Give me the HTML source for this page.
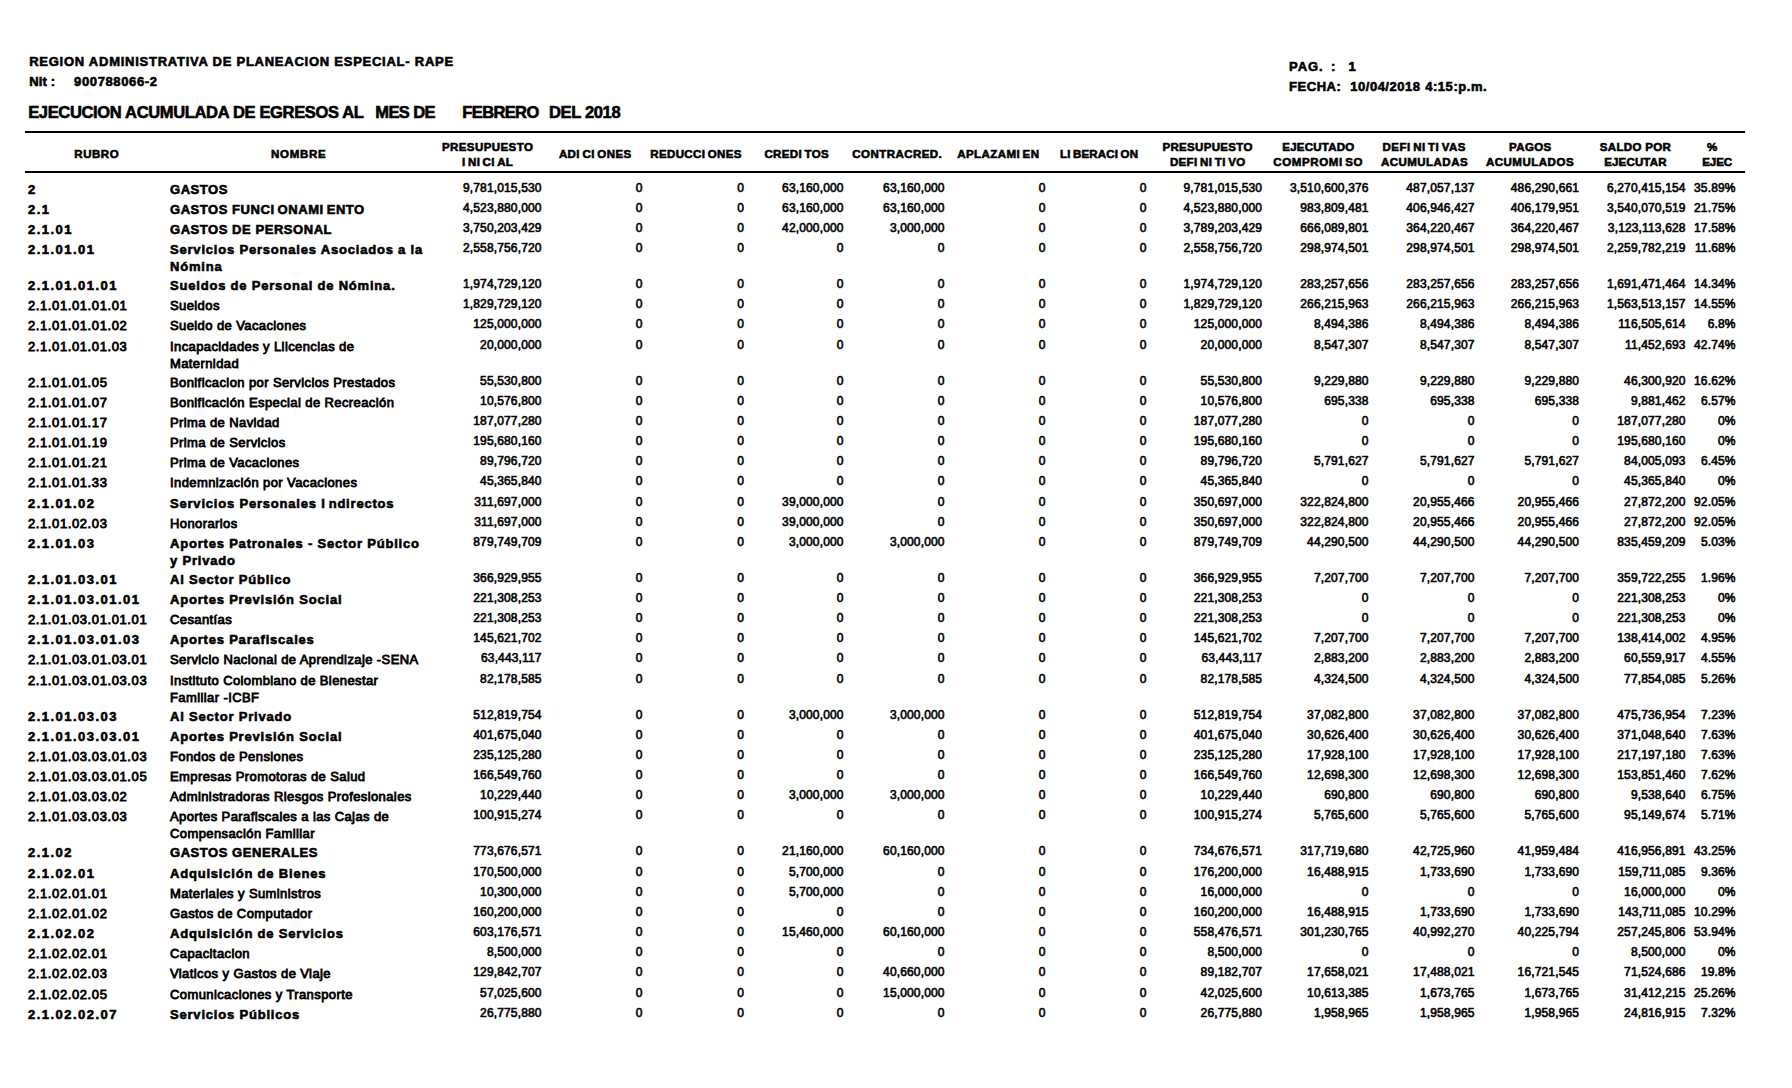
<!DOCTYPE html>
<html><head><meta charset="utf-8"><style>
html,body{margin:0;padding:0;background:#fff;}
body{width:1792px;height:1088px;position:relative;overflow:hidden;font-family:'Liberation Sans', sans-serif;color:#000;}
.t{position:absolute;white-space:pre;}
.r{position:absolute;background:#000;}
</style></head><body>
<div class="t" style="top:55px;font-size:13px;line-height:13px;font-weight:bold;letter-spacing:0.751px;left:29.20px;-webkit-text-stroke:0.6px #000;">REGION ADMINISTRATIVA DE PLANEACION ESPECIAL- RAPE</div>
<div class="t" style="top:75px;font-size:13px;line-height:13px;font-weight:bold;letter-spacing:0.140px;left:29.20px;-webkit-text-stroke:0.6px #000;">Nit :</div>
<div class="t" style="top:75px;font-size:13px;line-height:13px;font-weight:bold;letter-spacing:0.620px;left:74.10px;-webkit-text-stroke:0.6px #000;">900788066-2</div>
<div class="t" style="top:104px;font-size:16.5px;line-height:16.5px;font-weight:bold;letter-spacing:-0.337px;left:28.20px;-webkit-text-stroke:0.6px #000;">EJECUCION ACUMULADA DE EGRESOS AL</div>
<div class="t" style="top:104px;font-size:16.5px;line-height:16.5px;font-weight:bold;letter-spacing:-0.611px;left:375.30px;-webkit-text-stroke:0.6px #000;">MES DE</div>
<div class="t" style="top:104px;font-size:16.5px;line-height:16.5px;font-weight:bold;letter-spacing:-0.623px;left:462.30px;-webkit-text-stroke:0.6px #000;">FEBRERO</div>
<div class="t" style="top:104px;font-size:16.5px;line-height:16.5px;font-weight:bold;letter-spacing:-0.345px;left:549.00px;-webkit-text-stroke:0.6px #000;">DEL 2018</div>
<div class="t" style="top:60px;font-size:13px;line-height:13px;font-weight:bold;letter-spacing:0.931px;left:1289.10px;-webkit-text-stroke:0.6px #000;">PAG.</div>
<div class="t" style="top:60px;font-size:13px;line-height:13px;font-weight:bold;left:1330.90px;-webkit-text-stroke:0.6px #000;">:</div>
<div class="t" style="top:60px;font-size:13px;line-height:13px;font-weight:bold;left:1348.40px;-webkit-text-stroke:0.6px #000;">1</div>
<div class="t" style="top:80px;font-size:13px;line-height:13px;font-weight:bold;letter-spacing:0.525px;left:1289.10px;-webkit-text-stroke:0.6px #000;">FECHA:</div>
<div class="t" style="top:80px;font-size:13px;line-height:13px;font-weight:bold;letter-spacing:0.507px;left:1350.30px;-webkit-text-stroke:0.6px #000;">10/04/2018</div>
<div class="t" style="top:80px;font-size:13px;line-height:13px;font-weight:bold;letter-spacing:0.543px;left:1425.20px;-webkit-text-stroke:0.6px #000;">4:15:p.m.</div>
<div class="t" style="top:149px;font-size:11.5px;line-height:11.5px;font-weight:bold;letter-spacing:0.545px;left:74.30px;-webkit-text-stroke:0.6px #000;">RUBRO</div>
<div class="t" style="top:149px;font-size:11.5px;line-height:11.5px;font-weight:bold;letter-spacing:0.692px;left:271.00px;-webkit-text-stroke:0.6px #000;">NOMBRE</div>
<div class="t" style="top:142px;font-size:11.5px;line-height:11.5px;font-weight:bold;letter-spacing:0.425px;left:441.90px;-webkit-text-stroke:0.6px #000;">PRESUPUESTO</div>
<div class="t" style="top:157px;font-size:11.5px;line-height:11.5px;font-weight:bold;letter-spacing:0.267px;left:462.10px;-webkit-text-stroke:0.6px #000;"><span style="margin-right:2.5px">I</span>N<span style="margin-right:2.5px">I</span>C<span style="margin-right:2.5px">I</span>AL</div>
<div class="t" style="top:149px;font-size:11.5px;line-height:11.5px;font-weight:bold;letter-spacing:0.422px;left:558.90px;-webkit-text-stroke:0.6px #000;">AD<span style="margin-right:2.5px">I</span>C<span style="margin-right:2.5px">I</span>ONES</div>
<div class="t" style="top:149px;font-size:11.5px;line-height:11.5px;font-weight:bold;letter-spacing:0.359px;left:650.30px;-webkit-text-stroke:0.6px #000;">REDUCC<span style="margin-right:2.5px">I</span>ONES</div>
<div class="t" style="top:149px;font-size:11.5px;line-height:11.5px;font-weight:bold;letter-spacing:0.365px;left:764.40px;-webkit-text-stroke:0.6px #000;">CRED<span style="margin-right:2.5px">I</span>TOS</div>
<div class="t" style="top:149px;font-size:11.5px;line-height:11.5px;font-weight:bold;letter-spacing:0.443px;left:852.30px;-webkit-text-stroke:0.6px #000;">CONTRACRED.</div>
<div class="t" style="top:149px;font-size:11.5px;line-height:11.5px;font-weight:bold;letter-spacing:0.424px;left:957.30px;-webkit-text-stroke:0.6px #000;">APLAZAM<span style="margin-right:2.5px">I</span>EN</div>
<div class="t" style="top:149px;font-size:11.5px;line-height:11.5px;font-weight:bold;letter-spacing:0.139px;left:1060.10px;-webkit-text-stroke:0.6px #000;">L<span style="margin-right:2.5px">I</span>BERAC<span style="margin-right:2.5px">I</span>ON</div>
<div class="t" style="top:142px;font-size:11.5px;line-height:11.5px;font-weight:bold;letter-spacing:0.325px;left:1162.40px;-webkit-text-stroke:0.6px #000;">PRESUPUESTO</div>
<div class="t" style="top:157px;font-size:11.5px;line-height:11.5px;font-weight:bold;letter-spacing:0.357px;left:1169.90px;-webkit-text-stroke:0.6px #000;">DEF<span style="margin-right:2.5px">I</span>N<span style="margin-right:2.5px">I</span>T<span style="margin-right:2.5px">I</span>VO</div>
<div class="t" style="top:142px;font-size:11.5px;line-height:11.5px;font-weight:bold;letter-spacing:0.222px;left:1282.30px;-webkit-text-stroke:0.6px #000;">EJECUTADO</div>
<div class="t" style="top:157px;font-size:11.5px;line-height:11.5px;font-weight:bold;letter-spacing:0.623px;left:1273.30px;-webkit-text-stroke:0.6px #000;">COMPROM<span style="margin-right:2.5px">I</span>SO</div>
<div class="t" style="top:142px;font-size:11.5px;line-height:11.5px;font-weight:bold;letter-spacing:0.456px;left:1382.60px;-webkit-text-stroke:0.6px #000;">DEF<span style="margin-right:2.5px">I</span>N<span style="margin-right:2.5px">I</span>T<span style="margin-right:2.5px">I</span>VAS</div>
<div class="t" style="top:157px;font-size:11.5px;line-height:11.5px;font-weight:bold;letter-spacing:0.462px;left:1381.00px;-webkit-text-stroke:0.6px #000;">ACUMULADAS</div>
<div class="t" style="top:142px;font-size:11.5px;line-height:11.5px;font-weight:bold;letter-spacing:0.372px;left:1509.10px;-webkit-text-stroke:0.6px #000;">PAGOS</div>
<div class="t" style="top:157px;font-size:11.5px;line-height:11.5px;font-weight:bold;letter-spacing:0.513px;left:1485.90px;-webkit-text-stroke:0.6px #000;">ACUMULADOS</div>
<div class="t" style="top:142px;font-size:11.5px;line-height:11.5px;font-weight:bold;letter-spacing:0.330px;left:1599.80px;-webkit-text-stroke:0.6px #000;">SALDO POR</div>
<div class="t" style="top:157px;font-size:11.5px;line-height:11.5px;font-weight:bold;letter-spacing:0.168px;left:1604.20px;-webkit-text-stroke:0.6px #000;">EJECUTAR</div>
<div class="t" style="top:142px;font-size:11.5px;line-height:11.5px;font-weight:bold;left:1706.90px;-webkit-text-stroke:0.6px #000;">%</div>
<div class="t" style="top:157px;font-size:11.5px;line-height:11.5px;font-weight:bold;letter-spacing:-0.112px;left:1702.30px;-webkit-text-stroke:0.6px #000;">EJEC</div>
<div class="r" style="top:131px;left:25px;width:1720px;height:2px"></div>
<div class="r" style="top:171px;left:25px;width:1720px;height:2px"></div>
<div class="t" style="top:183px;font-size:13px;line-height:13px;font-weight:bold;letter-spacing:1.470px;left:28.00px;-webkit-text-stroke:0.6px #000;">2</div>
<div class="t" style="top:183px;font-size:13px;line-height:13px;font-weight:bold;letter-spacing:0.550px;left:170.00px;-webkit-text-stroke:0.6px #000;">GASTOS</div>
<div class="t" style="top:182px;font-size:12px;line-height:12px;font-weight:normal;letter-spacing:0.150px;right:1250.35px;text-align:right;-webkit-text-stroke:0.6px #000;">9,781,015,530</div>
<div class="t" style="top:182px;font-size:12px;line-height:12px;font-weight:normal;letter-spacing:0.150px;right:1149.35px;text-align:right;-webkit-text-stroke:0.6px #000;">0</div>
<div class="t" style="top:182px;font-size:12px;line-height:12px;font-weight:normal;letter-spacing:0.150px;right:1047.85px;text-align:right;-webkit-text-stroke:0.6px #000;">0</div>
<div class="t" style="top:182px;font-size:12px;line-height:12px;font-weight:normal;letter-spacing:0.150px;right:948.35px;text-align:right;-webkit-text-stroke:0.6px #000;">63,160,000</div>
<div class="t" style="top:182px;font-size:12px;line-height:12px;font-weight:normal;letter-spacing:0.150px;right:847.35px;text-align:right;-webkit-text-stroke:0.6px #000;">63,160,000</div>
<div class="t" style="top:182px;font-size:12px;line-height:12px;font-weight:normal;letter-spacing:0.150px;right:746.35px;text-align:right;-webkit-text-stroke:0.6px #000;">0</div>
<div class="t" style="top:182px;font-size:12px;line-height:12px;font-weight:normal;letter-spacing:0.150px;right:645.35px;text-align:right;-webkit-text-stroke:0.6px #000;">0</div>
<div class="t" style="top:182px;font-size:12px;line-height:12px;font-weight:normal;letter-spacing:0.150px;right:529.85px;text-align:right;-webkit-text-stroke:0.6px #000;">9,781,015,530</div>
<div class="t" style="top:182px;font-size:12px;line-height:12px;font-weight:normal;letter-spacing:0.150px;right:423.35px;text-align:right;-webkit-text-stroke:0.6px #000;">3,510,600,376</div>
<div class="t" style="top:182px;font-size:12px;line-height:12px;font-weight:normal;letter-spacing:0.150px;right:317.35px;text-align:right;-webkit-text-stroke:0.6px #000;">487,057,137</div>
<div class="t" style="top:182px;font-size:12px;line-height:12px;font-weight:normal;letter-spacing:0.150px;right:212.85px;text-align:right;-webkit-text-stroke:0.6px #000;">486,290,661</div>
<div class="t" style="top:182px;font-size:12px;line-height:12px;font-weight:normal;letter-spacing:0.150px;right:106.35px;text-align:right;-webkit-text-stroke:0.6px #000;">6,270,415,154</div>
<div class="t" style="top:182px;font-size:12px;line-height:12px;font-weight:normal;letter-spacing:0.150px;right:56.35px;text-align:right;-webkit-text-stroke:0.6px #000;">35.89%</div>
<div class="t" style="top:203px;font-size:13px;line-height:13px;font-weight:bold;letter-spacing:1.470px;left:28.00px;-webkit-text-stroke:0.6px #000;">2.1</div>
<div class="t" style="top:203px;font-size:13px;line-height:13px;font-weight:bold;letter-spacing:0.550px;left:170.00px;-webkit-text-stroke:0.6px #000;">GASTOS FUNC<span style="margin-right:3px">I</span>ONAM<span style="margin-right:3px">I</span>ENTO</div>
<div class="t" style="top:202px;font-size:12px;line-height:12px;font-weight:normal;letter-spacing:0.150px;right:1250.35px;text-align:right;-webkit-text-stroke:0.6px #000;">4,523,880,000</div>
<div class="t" style="top:202px;font-size:12px;line-height:12px;font-weight:normal;letter-spacing:0.150px;right:1149.35px;text-align:right;-webkit-text-stroke:0.6px #000;">0</div>
<div class="t" style="top:202px;font-size:12px;line-height:12px;font-weight:normal;letter-spacing:0.150px;right:1047.85px;text-align:right;-webkit-text-stroke:0.6px #000;">0</div>
<div class="t" style="top:202px;font-size:12px;line-height:12px;font-weight:normal;letter-spacing:0.150px;right:948.35px;text-align:right;-webkit-text-stroke:0.6px #000;">63,160,000</div>
<div class="t" style="top:202px;font-size:12px;line-height:12px;font-weight:normal;letter-spacing:0.150px;right:847.35px;text-align:right;-webkit-text-stroke:0.6px #000;">63,160,000</div>
<div class="t" style="top:202px;font-size:12px;line-height:12px;font-weight:normal;letter-spacing:0.150px;right:746.35px;text-align:right;-webkit-text-stroke:0.6px #000;">0</div>
<div class="t" style="top:202px;font-size:12px;line-height:12px;font-weight:normal;letter-spacing:0.150px;right:645.35px;text-align:right;-webkit-text-stroke:0.6px #000;">0</div>
<div class="t" style="top:202px;font-size:12px;line-height:12px;font-weight:normal;letter-spacing:0.150px;right:529.85px;text-align:right;-webkit-text-stroke:0.6px #000;">4,523,880,000</div>
<div class="t" style="top:202px;font-size:12px;line-height:12px;font-weight:normal;letter-spacing:0.150px;right:423.35px;text-align:right;-webkit-text-stroke:0.6px #000;">983,809,481</div>
<div class="t" style="top:202px;font-size:12px;line-height:12px;font-weight:normal;letter-spacing:0.150px;right:317.35px;text-align:right;-webkit-text-stroke:0.6px #000;">406,946,427</div>
<div class="t" style="top:202px;font-size:12px;line-height:12px;font-weight:normal;letter-spacing:0.150px;right:212.85px;text-align:right;-webkit-text-stroke:0.6px #000;">406,179,951</div>
<div class="t" style="top:202px;font-size:12px;line-height:12px;font-weight:normal;letter-spacing:0.150px;right:106.35px;text-align:right;-webkit-text-stroke:0.6px #000;">3,540,070,519</div>
<div class="t" style="top:202px;font-size:12px;line-height:12px;font-weight:normal;letter-spacing:0.150px;right:56.35px;text-align:right;-webkit-text-stroke:0.6px #000;">21.75%</div>
<div class="t" style="top:223px;font-size:13px;line-height:13px;font-weight:bold;letter-spacing:1.470px;left:28.00px;-webkit-text-stroke:0.6px #000;">2.1.01</div>
<div class="t" style="top:223px;font-size:13px;line-height:13px;font-weight:bold;letter-spacing:0.550px;left:170.00px;-webkit-text-stroke:0.6px #000;">GASTOS DE PERSONAL</div>
<div class="t" style="top:222px;font-size:12px;line-height:12px;font-weight:normal;letter-spacing:0.150px;right:1250.35px;text-align:right;-webkit-text-stroke:0.6px #000;">3,750,203,429</div>
<div class="t" style="top:222px;font-size:12px;line-height:12px;font-weight:normal;letter-spacing:0.150px;right:1149.35px;text-align:right;-webkit-text-stroke:0.6px #000;">0</div>
<div class="t" style="top:222px;font-size:12px;line-height:12px;font-weight:normal;letter-spacing:0.150px;right:1047.85px;text-align:right;-webkit-text-stroke:0.6px #000;">0</div>
<div class="t" style="top:222px;font-size:12px;line-height:12px;font-weight:normal;letter-spacing:0.150px;right:948.35px;text-align:right;-webkit-text-stroke:0.6px #000;">42,000,000</div>
<div class="t" style="top:222px;font-size:12px;line-height:12px;font-weight:normal;letter-spacing:0.150px;right:847.35px;text-align:right;-webkit-text-stroke:0.6px #000;">3,000,000</div>
<div class="t" style="top:222px;font-size:12px;line-height:12px;font-weight:normal;letter-spacing:0.150px;right:746.35px;text-align:right;-webkit-text-stroke:0.6px #000;">0</div>
<div class="t" style="top:222px;font-size:12px;line-height:12px;font-weight:normal;letter-spacing:0.150px;right:645.35px;text-align:right;-webkit-text-stroke:0.6px #000;">0</div>
<div class="t" style="top:222px;font-size:12px;line-height:12px;font-weight:normal;letter-spacing:0.150px;right:529.85px;text-align:right;-webkit-text-stroke:0.6px #000;">3,789,203,429</div>
<div class="t" style="top:222px;font-size:12px;line-height:12px;font-weight:normal;letter-spacing:0.150px;right:423.35px;text-align:right;-webkit-text-stroke:0.6px #000;">666,089,801</div>
<div class="t" style="top:222px;font-size:12px;line-height:12px;font-weight:normal;letter-spacing:0.150px;right:317.35px;text-align:right;-webkit-text-stroke:0.6px #000;">364,220,467</div>
<div class="t" style="top:222px;font-size:12px;line-height:12px;font-weight:normal;letter-spacing:0.150px;right:212.85px;text-align:right;-webkit-text-stroke:0.6px #000;">364,220,467</div>
<div class="t" style="top:222px;font-size:12px;line-height:12px;font-weight:normal;letter-spacing:0.150px;right:106.35px;text-align:right;-webkit-text-stroke:0.6px #000;">3,123,113,628</div>
<div class="t" style="top:222px;font-size:12px;line-height:12px;font-weight:normal;letter-spacing:0.150px;right:56.35px;text-align:right;-webkit-text-stroke:0.6px #000;">17.58%</div>
<div class="t" style="top:243px;font-size:13px;line-height:13px;font-weight:bold;letter-spacing:1.470px;left:28.00px;-webkit-text-stroke:0.6px #000;">2.1.01.01</div>
<div class="t" style="top:243px;font-size:13px;line-height:13px;font-weight:bold;letter-spacing:0.800px;left:170.00px;-webkit-text-stroke:0.6px #000;">Servicios Personales Asociados a la</div>
<div class="t" style="top:260px;font-size:13px;line-height:13px;font-weight:bold;letter-spacing:0.800px;left:170.00px;-webkit-text-stroke:0.6px #000;">Nómina</div>
<div class="t" style="top:242px;font-size:12px;line-height:12px;font-weight:normal;letter-spacing:0.150px;right:1250.35px;text-align:right;-webkit-text-stroke:0.6px #000;">2,558,756,720</div>
<div class="t" style="top:242px;font-size:12px;line-height:12px;font-weight:normal;letter-spacing:0.150px;right:1149.35px;text-align:right;-webkit-text-stroke:0.6px #000;">0</div>
<div class="t" style="top:242px;font-size:12px;line-height:12px;font-weight:normal;letter-spacing:0.150px;right:1047.85px;text-align:right;-webkit-text-stroke:0.6px #000;">0</div>
<div class="t" style="top:242px;font-size:12px;line-height:12px;font-weight:normal;letter-spacing:0.150px;right:948.35px;text-align:right;-webkit-text-stroke:0.6px #000;">0</div>
<div class="t" style="top:242px;font-size:12px;line-height:12px;font-weight:normal;letter-spacing:0.150px;right:847.35px;text-align:right;-webkit-text-stroke:0.6px #000;">0</div>
<div class="t" style="top:242px;font-size:12px;line-height:12px;font-weight:normal;letter-spacing:0.150px;right:746.35px;text-align:right;-webkit-text-stroke:0.6px #000;">0</div>
<div class="t" style="top:242px;font-size:12px;line-height:12px;font-weight:normal;letter-spacing:0.150px;right:645.35px;text-align:right;-webkit-text-stroke:0.6px #000;">0</div>
<div class="t" style="top:242px;font-size:12px;line-height:12px;font-weight:normal;letter-spacing:0.150px;right:529.85px;text-align:right;-webkit-text-stroke:0.6px #000;">2,558,756,720</div>
<div class="t" style="top:242px;font-size:12px;line-height:12px;font-weight:normal;letter-spacing:0.150px;right:423.35px;text-align:right;-webkit-text-stroke:0.6px #000;">298,974,501</div>
<div class="t" style="top:242px;font-size:12px;line-height:12px;font-weight:normal;letter-spacing:0.150px;right:317.35px;text-align:right;-webkit-text-stroke:0.6px #000;">298,974,501</div>
<div class="t" style="top:242px;font-size:12px;line-height:12px;font-weight:normal;letter-spacing:0.150px;right:212.85px;text-align:right;-webkit-text-stroke:0.6px #000;">298,974,501</div>
<div class="t" style="top:242px;font-size:12px;line-height:12px;font-weight:normal;letter-spacing:0.150px;right:106.35px;text-align:right;-webkit-text-stroke:0.6px #000;">2,259,782,219</div>
<div class="t" style="top:242px;font-size:12px;line-height:12px;font-weight:normal;letter-spacing:0.150px;right:56.35px;text-align:right;-webkit-text-stroke:0.6px #000;">11.68%</div>
<div class="t" style="top:279px;font-size:13px;line-height:13px;font-weight:bold;letter-spacing:1.470px;left:28.00px;-webkit-text-stroke:0.6px #000;">2.1.01.01.01</div>
<div class="t" style="top:279px;font-size:13px;line-height:13px;font-weight:bold;letter-spacing:0.800px;left:170.00px;-webkit-text-stroke:0.6px #000;">Sueldos de Personal de Nómina.</div>
<div class="t" style="top:278px;font-size:12px;line-height:12px;font-weight:normal;letter-spacing:0.150px;right:1250.35px;text-align:right;-webkit-text-stroke:0.6px #000;">1,974,729,120</div>
<div class="t" style="top:278px;font-size:12px;line-height:12px;font-weight:normal;letter-spacing:0.150px;right:1149.35px;text-align:right;-webkit-text-stroke:0.6px #000;">0</div>
<div class="t" style="top:278px;font-size:12px;line-height:12px;font-weight:normal;letter-spacing:0.150px;right:1047.85px;text-align:right;-webkit-text-stroke:0.6px #000;">0</div>
<div class="t" style="top:278px;font-size:12px;line-height:12px;font-weight:normal;letter-spacing:0.150px;right:948.35px;text-align:right;-webkit-text-stroke:0.6px #000;">0</div>
<div class="t" style="top:278px;font-size:12px;line-height:12px;font-weight:normal;letter-spacing:0.150px;right:847.35px;text-align:right;-webkit-text-stroke:0.6px #000;">0</div>
<div class="t" style="top:278px;font-size:12px;line-height:12px;font-weight:normal;letter-spacing:0.150px;right:746.35px;text-align:right;-webkit-text-stroke:0.6px #000;">0</div>
<div class="t" style="top:278px;font-size:12px;line-height:12px;font-weight:normal;letter-spacing:0.150px;right:645.35px;text-align:right;-webkit-text-stroke:0.6px #000;">0</div>
<div class="t" style="top:278px;font-size:12px;line-height:12px;font-weight:normal;letter-spacing:0.150px;right:529.85px;text-align:right;-webkit-text-stroke:0.6px #000;">1,974,729,120</div>
<div class="t" style="top:278px;font-size:12px;line-height:12px;font-weight:normal;letter-spacing:0.150px;right:423.35px;text-align:right;-webkit-text-stroke:0.6px #000;">283,257,656</div>
<div class="t" style="top:278px;font-size:12px;line-height:12px;font-weight:normal;letter-spacing:0.150px;right:317.35px;text-align:right;-webkit-text-stroke:0.6px #000;">283,257,656</div>
<div class="t" style="top:278px;font-size:12px;line-height:12px;font-weight:normal;letter-spacing:0.150px;right:212.85px;text-align:right;-webkit-text-stroke:0.6px #000;">283,257,656</div>
<div class="t" style="top:278px;font-size:12px;line-height:12px;font-weight:normal;letter-spacing:0.150px;right:106.35px;text-align:right;-webkit-text-stroke:0.6px #000;">1,691,471,464</div>
<div class="t" style="top:278px;font-size:12px;line-height:12px;font-weight:normal;letter-spacing:0.150px;right:56.35px;text-align:right;-webkit-text-stroke:0.6px #000;">14.34%</div>
<div class="t" style="top:299px;font-size:13px;line-height:13px;font-weight:normal;letter-spacing:0.600px;left:28.00px;-webkit-text-stroke:0.8px #000;">2.1.01.01.01.01</div>
<div class="t" style="top:299px;font-size:13px;line-height:13px;font-weight:normal;letter-spacing:0.400px;left:170.00px;-webkit-text-stroke:0.8px #000;">Sueldos</div>
<div class="t" style="top:298px;font-size:12px;line-height:12px;font-weight:normal;letter-spacing:0.150px;right:1250.35px;text-align:right;-webkit-text-stroke:0.6px #000;">1,829,729,120</div>
<div class="t" style="top:298px;font-size:12px;line-height:12px;font-weight:normal;letter-spacing:0.150px;right:1149.35px;text-align:right;-webkit-text-stroke:0.6px #000;">0</div>
<div class="t" style="top:298px;font-size:12px;line-height:12px;font-weight:normal;letter-spacing:0.150px;right:1047.85px;text-align:right;-webkit-text-stroke:0.6px #000;">0</div>
<div class="t" style="top:298px;font-size:12px;line-height:12px;font-weight:normal;letter-spacing:0.150px;right:948.35px;text-align:right;-webkit-text-stroke:0.6px #000;">0</div>
<div class="t" style="top:298px;font-size:12px;line-height:12px;font-weight:normal;letter-spacing:0.150px;right:847.35px;text-align:right;-webkit-text-stroke:0.6px #000;">0</div>
<div class="t" style="top:298px;font-size:12px;line-height:12px;font-weight:normal;letter-spacing:0.150px;right:746.35px;text-align:right;-webkit-text-stroke:0.6px #000;">0</div>
<div class="t" style="top:298px;font-size:12px;line-height:12px;font-weight:normal;letter-spacing:0.150px;right:645.35px;text-align:right;-webkit-text-stroke:0.6px #000;">0</div>
<div class="t" style="top:298px;font-size:12px;line-height:12px;font-weight:normal;letter-spacing:0.150px;right:529.85px;text-align:right;-webkit-text-stroke:0.6px #000;">1,829,729,120</div>
<div class="t" style="top:298px;font-size:12px;line-height:12px;font-weight:normal;letter-spacing:0.150px;right:423.35px;text-align:right;-webkit-text-stroke:0.6px #000;">266,215,963</div>
<div class="t" style="top:298px;font-size:12px;line-height:12px;font-weight:normal;letter-spacing:0.150px;right:317.35px;text-align:right;-webkit-text-stroke:0.6px #000;">266,215,963</div>
<div class="t" style="top:298px;font-size:12px;line-height:12px;font-weight:normal;letter-spacing:0.150px;right:212.85px;text-align:right;-webkit-text-stroke:0.6px #000;">266,215,963</div>
<div class="t" style="top:298px;font-size:12px;line-height:12px;font-weight:normal;letter-spacing:0.150px;right:106.35px;text-align:right;-webkit-text-stroke:0.6px #000;">1,563,513,157</div>
<div class="t" style="top:298px;font-size:12px;line-height:12px;font-weight:normal;letter-spacing:0.150px;right:56.35px;text-align:right;-webkit-text-stroke:0.6px #000;">14.55%</div>
<div class="t" style="top:319px;font-size:13px;line-height:13px;font-weight:normal;letter-spacing:0.600px;left:28.00px;-webkit-text-stroke:0.8px #000;">2.1.01.01.01.02</div>
<div class="t" style="top:319px;font-size:13px;line-height:13px;font-weight:normal;letter-spacing:0.400px;left:170.00px;-webkit-text-stroke:0.8px #000;">Sueldo de Vacaciones</div>
<div class="t" style="top:318px;font-size:12px;line-height:12px;font-weight:normal;letter-spacing:0.150px;right:1250.35px;text-align:right;-webkit-text-stroke:0.6px #000;">125,000,000</div>
<div class="t" style="top:318px;font-size:12px;line-height:12px;font-weight:normal;letter-spacing:0.150px;right:1149.35px;text-align:right;-webkit-text-stroke:0.6px #000;">0</div>
<div class="t" style="top:318px;font-size:12px;line-height:12px;font-weight:normal;letter-spacing:0.150px;right:1047.85px;text-align:right;-webkit-text-stroke:0.6px #000;">0</div>
<div class="t" style="top:318px;font-size:12px;line-height:12px;font-weight:normal;letter-spacing:0.150px;right:948.35px;text-align:right;-webkit-text-stroke:0.6px #000;">0</div>
<div class="t" style="top:318px;font-size:12px;line-height:12px;font-weight:normal;letter-spacing:0.150px;right:847.35px;text-align:right;-webkit-text-stroke:0.6px #000;">0</div>
<div class="t" style="top:318px;font-size:12px;line-height:12px;font-weight:normal;letter-spacing:0.150px;right:746.35px;text-align:right;-webkit-text-stroke:0.6px #000;">0</div>
<div class="t" style="top:318px;font-size:12px;line-height:12px;font-weight:normal;letter-spacing:0.150px;right:645.35px;text-align:right;-webkit-text-stroke:0.6px #000;">0</div>
<div class="t" style="top:318px;font-size:12px;line-height:12px;font-weight:normal;letter-spacing:0.150px;right:529.85px;text-align:right;-webkit-text-stroke:0.6px #000;">125,000,000</div>
<div class="t" style="top:318px;font-size:12px;line-height:12px;font-weight:normal;letter-spacing:0.150px;right:423.35px;text-align:right;-webkit-text-stroke:0.6px #000;">8,494,386</div>
<div class="t" style="top:318px;font-size:12px;line-height:12px;font-weight:normal;letter-spacing:0.150px;right:317.35px;text-align:right;-webkit-text-stroke:0.6px #000;">8,494,386</div>
<div class="t" style="top:318px;font-size:12px;line-height:12px;font-weight:normal;letter-spacing:0.150px;right:212.85px;text-align:right;-webkit-text-stroke:0.6px #000;">8,494,386</div>
<div class="t" style="top:318px;font-size:12px;line-height:12px;font-weight:normal;letter-spacing:0.150px;right:106.35px;text-align:right;-webkit-text-stroke:0.6px #000;">116,505,614</div>
<div class="t" style="top:318px;font-size:12px;line-height:12px;font-weight:normal;letter-spacing:0.150px;right:56.35px;text-align:right;-webkit-text-stroke:0.6px #000;">6.8%</div>
<div class="t" style="top:340px;font-size:13px;line-height:13px;font-weight:normal;letter-spacing:0.600px;left:28.00px;-webkit-text-stroke:0.8px #000;">2.1.01.01.01.03</div>
<div class="t" style="top:340px;font-size:13px;line-height:13px;font-weight:normal;letter-spacing:0.400px;left:170.00px;-webkit-text-stroke:0.8px #000;">Incapacidades y Liicencias de</div>
<div class="t" style="top:357px;font-size:13px;line-height:13px;font-weight:normal;letter-spacing:0.400px;left:170.00px;-webkit-text-stroke:0.8px #000;">Maternidad</div>
<div class="t" style="top:339px;font-size:12px;line-height:12px;font-weight:normal;letter-spacing:0.150px;right:1250.35px;text-align:right;-webkit-text-stroke:0.6px #000;">20,000,000</div>
<div class="t" style="top:339px;font-size:12px;line-height:12px;font-weight:normal;letter-spacing:0.150px;right:1149.35px;text-align:right;-webkit-text-stroke:0.6px #000;">0</div>
<div class="t" style="top:339px;font-size:12px;line-height:12px;font-weight:normal;letter-spacing:0.150px;right:1047.85px;text-align:right;-webkit-text-stroke:0.6px #000;">0</div>
<div class="t" style="top:339px;font-size:12px;line-height:12px;font-weight:normal;letter-spacing:0.150px;right:948.35px;text-align:right;-webkit-text-stroke:0.6px #000;">0</div>
<div class="t" style="top:339px;font-size:12px;line-height:12px;font-weight:normal;letter-spacing:0.150px;right:847.35px;text-align:right;-webkit-text-stroke:0.6px #000;">0</div>
<div class="t" style="top:339px;font-size:12px;line-height:12px;font-weight:normal;letter-spacing:0.150px;right:746.35px;text-align:right;-webkit-text-stroke:0.6px #000;">0</div>
<div class="t" style="top:339px;font-size:12px;line-height:12px;font-weight:normal;letter-spacing:0.150px;right:645.35px;text-align:right;-webkit-text-stroke:0.6px #000;">0</div>
<div class="t" style="top:339px;font-size:12px;line-height:12px;font-weight:normal;letter-spacing:0.150px;right:529.85px;text-align:right;-webkit-text-stroke:0.6px #000;">20,000,000</div>
<div class="t" style="top:339px;font-size:12px;line-height:12px;font-weight:normal;letter-spacing:0.150px;right:423.35px;text-align:right;-webkit-text-stroke:0.6px #000;">8,547,307</div>
<div class="t" style="top:339px;font-size:12px;line-height:12px;font-weight:normal;letter-spacing:0.150px;right:317.35px;text-align:right;-webkit-text-stroke:0.6px #000;">8,547,307</div>
<div class="t" style="top:339px;font-size:12px;line-height:12px;font-weight:normal;letter-spacing:0.150px;right:212.85px;text-align:right;-webkit-text-stroke:0.6px #000;">8,547,307</div>
<div class="t" style="top:339px;font-size:12px;line-height:12px;font-weight:normal;letter-spacing:0.150px;right:106.35px;text-align:right;-webkit-text-stroke:0.6px #000;">11,452,693</div>
<div class="t" style="top:339px;font-size:12px;line-height:12px;font-weight:normal;letter-spacing:0.150px;right:56.35px;text-align:right;-webkit-text-stroke:0.6px #000;">42.74%</div>
<div class="t" style="top:376px;font-size:13px;line-height:13px;font-weight:normal;letter-spacing:0.600px;left:28.00px;-webkit-text-stroke:0.8px #000;">2.1.01.01.05</div>
<div class="t" style="top:376px;font-size:13px;line-height:13px;font-weight:normal;letter-spacing:0.400px;left:170.00px;-webkit-text-stroke:0.8px #000;">Bonificacion por Servicios Prestados</div>
<div class="t" style="top:375px;font-size:12px;line-height:12px;font-weight:normal;letter-spacing:0.150px;right:1250.35px;text-align:right;-webkit-text-stroke:0.6px #000;">55,530,800</div>
<div class="t" style="top:375px;font-size:12px;line-height:12px;font-weight:normal;letter-spacing:0.150px;right:1149.35px;text-align:right;-webkit-text-stroke:0.6px #000;">0</div>
<div class="t" style="top:375px;font-size:12px;line-height:12px;font-weight:normal;letter-spacing:0.150px;right:1047.85px;text-align:right;-webkit-text-stroke:0.6px #000;">0</div>
<div class="t" style="top:375px;font-size:12px;line-height:12px;font-weight:normal;letter-spacing:0.150px;right:948.35px;text-align:right;-webkit-text-stroke:0.6px #000;">0</div>
<div class="t" style="top:375px;font-size:12px;line-height:12px;font-weight:normal;letter-spacing:0.150px;right:847.35px;text-align:right;-webkit-text-stroke:0.6px #000;">0</div>
<div class="t" style="top:375px;font-size:12px;line-height:12px;font-weight:normal;letter-spacing:0.150px;right:746.35px;text-align:right;-webkit-text-stroke:0.6px #000;">0</div>
<div class="t" style="top:375px;font-size:12px;line-height:12px;font-weight:normal;letter-spacing:0.150px;right:645.35px;text-align:right;-webkit-text-stroke:0.6px #000;">0</div>
<div class="t" style="top:375px;font-size:12px;line-height:12px;font-weight:normal;letter-spacing:0.150px;right:529.85px;text-align:right;-webkit-text-stroke:0.6px #000;">55,530,800</div>
<div class="t" style="top:375px;font-size:12px;line-height:12px;font-weight:normal;letter-spacing:0.150px;right:423.35px;text-align:right;-webkit-text-stroke:0.6px #000;">9,229,880</div>
<div class="t" style="top:375px;font-size:12px;line-height:12px;font-weight:normal;letter-spacing:0.150px;right:317.35px;text-align:right;-webkit-text-stroke:0.6px #000;">9,229,880</div>
<div class="t" style="top:375px;font-size:12px;line-height:12px;font-weight:normal;letter-spacing:0.150px;right:212.85px;text-align:right;-webkit-text-stroke:0.6px #000;">9,229,880</div>
<div class="t" style="top:375px;font-size:12px;line-height:12px;font-weight:normal;letter-spacing:0.150px;right:106.35px;text-align:right;-webkit-text-stroke:0.6px #000;">46,300,920</div>
<div class="t" style="top:375px;font-size:12px;line-height:12px;font-weight:normal;letter-spacing:0.150px;right:56.35px;text-align:right;-webkit-text-stroke:0.6px #000;">16.62%</div>
<div class="t" style="top:396px;font-size:13px;line-height:13px;font-weight:normal;letter-spacing:0.600px;left:28.00px;-webkit-text-stroke:0.8px #000;">2.1.01.01.07</div>
<div class="t" style="top:396px;font-size:13px;line-height:13px;font-weight:normal;letter-spacing:0.400px;left:170.00px;-webkit-text-stroke:0.8px #000;">Bonificación Especial de Recreación</div>
<div class="t" style="top:395px;font-size:12px;line-height:12px;font-weight:normal;letter-spacing:0.150px;right:1250.35px;text-align:right;-webkit-text-stroke:0.6px #000;">10,576,800</div>
<div class="t" style="top:395px;font-size:12px;line-height:12px;font-weight:normal;letter-spacing:0.150px;right:1149.35px;text-align:right;-webkit-text-stroke:0.6px #000;">0</div>
<div class="t" style="top:395px;font-size:12px;line-height:12px;font-weight:normal;letter-spacing:0.150px;right:1047.85px;text-align:right;-webkit-text-stroke:0.6px #000;">0</div>
<div class="t" style="top:395px;font-size:12px;line-height:12px;font-weight:normal;letter-spacing:0.150px;right:948.35px;text-align:right;-webkit-text-stroke:0.6px #000;">0</div>
<div class="t" style="top:395px;font-size:12px;line-height:12px;font-weight:normal;letter-spacing:0.150px;right:847.35px;text-align:right;-webkit-text-stroke:0.6px #000;">0</div>
<div class="t" style="top:395px;font-size:12px;line-height:12px;font-weight:normal;letter-spacing:0.150px;right:746.35px;text-align:right;-webkit-text-stroke:0.6px #000;">0</div>
<div class="t" style="top:395px;font-size:12px;line-height:12px;font-weight:normal;letter-spacing:0.150px;right:645.35px;text-align:right;-webkit-text-stroke:0.6px #000;">0</div>
<div class="t" style="top:395px;font-size:12px;line-height:12px;font-weight:normal;letter-spacing:0.150px;right:529.85px;text-align:right;-webkit-text-stroke:0.6px #000;">10,576,800</div>
<div class="t" style="top:395px;font-size:12px;line-height:12px;font-weight:normal;letter-spacing:0.150px;right:423.35px;text-align:right;-webkit-text-stroke:0.6px #000;">695,338</div>
<div class="t" style="top:395px;font-size:12px;line-height:12px;font-weight:normal;letter-spacing:0.150px;right:317.35px;text-align:right;-webkit-text-stroke:0.6px #000;">695,338</div>
<div class="t" style="top:395px;font-size:12px;line-height:12px;font-weight:normal;letter-spacing:0.150px;right:212.85px;text-align:right;-webkit-text-stroke:0.6px #000;">695,338</div>
<div class="t" style="top:395px;font-size:12px;line-height:12px;font-weight:normal;letter-spacing:0.150px;right:106.35px;text-align:right;-webkit-text-stroke:0.6px #000;">9,881,462</div>
<div class="t" style="top:395px;font-size:12px;line-height:12px;font-weight:normal;letter-spacing:0.150px;right:56.35px;text-align:right;-webkit-text-stroke:0.6px #000;">6.57%</div>
<div class="t" style="top:416px;font-size:13px;line-height:13px;font-weight:normal;letter-spacing:0.600px;left:28.00px;-webkit-text-stroke:0.8px #000;">2.1.01.01.17</div>
<div class="t" style="top:416px;font-size:13px;line-height:13px;font-weight:normal;letter-spacing:0.400px;left:170.00px;-webkit-text-stroke:0.8px #000;">Prima de Navidad</div>
<div class="t" style="top:415px;font-size:12px;line-height:12px;font-weight:normal;letter-spacing:0.150px;right:1250.35px;text-align:right;-webkit-text-stroke:0.6px #000;">187,077,280</div>
<div class="t" style="top:415px;font-size:12px;line-height:12px;font-weight:normal;letter-spacing:0.150px;right:1149.35px;text-align:right;-webkit-text-stroke:0.6px #000;">0</div>
<div class="t" style="top:415px;font-size:12px;line-height:12px;font-weight:normal;letter-spacing:0.150px;right:1047.85px;text-align:right;-webkit-text-stroke:0.6px #000;">0</div>
<div class="t" style="top:415px;font-size:12px;line-height:12px;font-weight:normal;letter-spacing:0.150px;right:948.35px;text-align:right;-webkit-text-stroke:0.6px #000;">0</div>
<div class="t" style="top:415px;font-size:12px;line-height:12px;font-weight:normal;letter-spacing:0.150px;right:847.35px;text-align:right;-webkit-text-stroke:0.6px #000;">0</div>
<div class="t" style="top:415px;font-size:12px;line-height:12px;font-weight:normal;letter-spacing:0.150px;right:746.35px;text-align:right;-webkit-text-stroke:0.6px #000;">0</div>
<div class="t" style="top:415px;font-size:12px;line-height:12px;font-weight:normal;letter-spacing:0.150px;right:645.35px;text-align:right;-webkit-text-stroke:0.6px #000;">0</div>
<div class="t" style="top:415px;font-size:12px;line-height:12px;font-weight:normal;letter-spacing:0.150px;right:529.85px;text-align:right;-webkit-text-stroke:0.6px #000;">187,077,280</div>
<div class="t" style="top:415px;font-size:12px;line-height:12px;font-weight:normal;letter-spacing:0.150px;right:423.35px;text-align:right;-webkit-text-stroke:0.6px #000;">0</div>
<div class="t" style="top:415px;font-size:12px;line-height:12px;font-weight:normal;letter-spacing:0.150px;right:317.35px;text-align:right;-webkit-text-stroke:0.6px #000;">0</div>
<div class="t" style="top:415px;font-size:12px;line-height:12px;font-weight:normal;letter-spacing:0.150px;right:212.85px;text-align:right;-webkit-text-stroke:0.6px #000;">0</div>
<div class="t" style="top:415px;font-size:12px;line-height:12px;font-weight:normal;letter-spacing:0.150px;right:106.35px;text-align:right;-webkit-text-stroke:0.6px #000;">187,077,280</div>
<div class="t" style="top:415px;font-size:12px;line-height:12px;font-weight:normal;letter-spacing:0.150px;right:56.35px;text-align:right;-webkit-text-stroke:0.6px #000;">0%</div>
<div class="t" style="top:436px;font-size:13px;line-height:13px;font-weight:normal;letter-spacing:0.600px;left:28.00px;-webkit-text-stroke:0.8px #000;">2.1.01.01.19</div>
<div class="t" style="top:436px;font-size:13px;line-height:13px;font-weight:normal;letter-spacing:0.400px;left:170.00px;-webkit-text-stroke:0.8px #000;">Prima de Servicios</div>
<div class="t" style="top:435px;font-size:12px;line-height:12px;font-weight:normal;letter-spacing:0.150px;right:1250.35px;text-align:right;-webkit-text-stroke:0.6px #000;">195,680,160</div>
<div class="t" style="top:435px;font-size:12px;line-height:12px;font-weight:normal;letter-spacing:0.150px;right:1149.35px;text-align:right;-webkit-text-stroke:0.6px #000;">0</div>
<div class="t" style="top:435px;font-size:12px;line-height:12px;font-weight:normal;letter-spacing:0.150px;right:1047.85px;text-align:right;-webkit-text-stroke:0.6px #000;">0</div>
<div class="t" style="top:435px;font-size:12px;line-height:12px;font-weight:normal;letter-spacing:0.150px;right:948.35px;text-align:right;-webkit-text-stroke:0.6px #000;">0</div>
<div class="t" style="top:435px;font-size:12px;line-height:12px;font-weight:normal;letter-spacing:0.150px;right:847.35px;text-align:right;-webkit-text-stroke:0.6px #000;">0</div>
<div class="t" style="top:435px;font-size:12px;line-height:12px;font-weight:normal;letter-spacing:0.150px;right:746.35px;text-align:right;-webkit-text-stroke:0.6px #000;">0</div>
<div class="t" style="top:435px;font-size:12px;line-height:12px;font-weight:normal;letter-spacing:0.150px;right:645.35px;text-align:right;-webkit-text-stroke:0.6px #000;">0</div>
<div class="t" style="top:435px;font-size:12px;line-height:12px;font-weight:normal;letter-spacing:0.150px;right:529.85px;text-align:right;-webkit-text-stroke:0.6px #000;">195,680,160</div>
<div class="t" style="top:435px;font-size:12px;line-height:12px;font-weight:normal;letter-spacing:0.150px;right:423.35px;text-align:right;-webkit-text-stroke:0.6px #000;">0</div>
<div class="t" style="top:435px;font-size:12px;line-height:12px;font-weight:normal;letter-spacing:0.150px;right:317.35px;text-align:right;-webkit-text-stroke:0.6px #000;">0</div>
<div class="t" style="top:435px;font-size:12px;line-height:12px;font-weight:normal;letter-spacing:0.150px;right:212.85px;text-align:right;-webkit-text-stroke:0.6px #000;">0</div>
<div class="t" style="top:435px;font-size:12px;line-height:12px;font-weight:normal;letter-spacing:0.150px;right:106.35px;text-align:right;-webkit-text-stroke:0.6px #000;">195,680,160</div>
<div class="t" style="top:435px;font-size:12px;line-height:12px;font-weight:normal;letter-spacing:0.150px;right:56.35px;text-align:right;-webkit-text-stroke:0.6px #000;">0%</div>
<div class="t" style="top:456px;font-size:13px;line-height:13px;font-weight:normal;letter-spacing:0.600px;left:28.00px;-webkit-text-stroke:0.8px #000;">2.1.01.01.21</div>
<div class="t" style="top:456px;font-size:13px;line-height:13px;font-weight:normal;letter-spacing:0.400px;left:170.00px;-webkit-text-stroke:0.8px #000;">Prima de Vacaciones</div>
<div class="t" style="top:455px;font-size:12px;line-height:12px;font-weight:normal;letter-spacing:0.150px;right:1250.35px;text-align:right;-webkit-text-stroke:0.6px #000;">89,796,720</div>
<div class="t" style="top:455px;font-size:12px;line-height:12px;font-weight:normal;letter-spacing:0.150px;right:1149.35px;text-align:right;-webkit-text-stroke:0.6px #000;">0</div>
<div class="t" style="top:455px;font-size:12px;line-height:12px;font-weight:normal;letter-spacing:0.150px;right:1047.85px;text-align:right;-webkit-text-stroke:0.6px #000;">0</div>
<div class="t" style="top:455px;font-size:12px;line-height:12px;font-weight:normal;letter-spacing:0.150px;right:948.35px;text-align:right;-webkit-text-stroke:0.6px #000;">0</div>
<div class="t" style="top:455px;font-size:12px;line-height:12px;font-weight:normal;letter-spacing:0.150px;right:847.35px;text-align:right;-webkit-text-stroke:0.6px #000;">0</div>
<div class="t" style="top:455px;font-size:12px;line-height:12px;font-weight:normal;letter-spacing:0.150px;right:746.35px;text-align:right;-webkit-text-stroke:0.6px #000;">0</div>
<div class="t" style="top:455px;font-size:12px;line-height:12px;font-weight:normal;letter-spacing:0.150px;right:645.35px;text-align:right;-webkit-text-stroke:0.6px #000;">0</div>
<div class="t" style="top:455px;font-size:12px;line-height:12px;font-weight:normal;letter-spacing:0.150px;right:529.85px;text-align:right;-webkit-text-stroke:0.6px #000;">89,796,720</div>
<div class="t" style="top:455px;font-size:12px;line-height:12px;font-weight:normal;letter-spacing:0.150px;right:423.35px;text-align:right;-webkit-text-stroke:0.6px #000;">5,791,627</div>
<div class="t" style="top:455px;font-size:12px;line-height:12px;font-weight:normal;letter-spacing:0.150px;right:317.35px;text-align:right;-webkit-text-stroke:0.6px #000;">5,791,627</div>
<div class="t" style="top:455px;font-size:12px;line-height:12px;font-weight:normal;letter-spacing:0.150px;right:212.85px;text-align:right;-webkit-text-stroke:0.6px #000;">5,791,627</div>
<div class="t" style="top:455px;font-size:12px;line-height:12px;font-weight:normal;letter-spacing:0.150px;right:106.35px;text-align:right;-webkit-text-stroke:0.6px #000;">84,005,093</div>
<div class="t" style="top:455px;font-size:12px;line-height:12px;font-weight:normal;letter-spacing:0.150px;right:56.35px;text-align:right;-webkit-text-stroke:0.6px #000;">6.45%</div>
<div class="t" style="top:476px;font-size:13px;line-height:13px;font-weight:normal;letter-spacing:0.600px;left:28.00px;-webkit-text-stroke:0.8px #000;">2.1.01.01.33</div>
<div class="t" style="top:476px;font-size:13px;line-height:13px;font-weight:normal;letter-spacing:0.400px;left:170.00px;-webkit-text-stroke:0.8px #000;">Indemnización por Vacaciones</div>
<div class="t" style="top:475px;font-size:12px;line-height:12px;font-weight:normal;letter-spacing:0.150px;right:1250.35px;text-align:right;-webkit-text-stroke:0.6px #000;">45,365,840</div>
<div class="t" style="top:475px;font-size:12px;line-height:12px;font-weight:normal;letter-spacing:0.150px;right:1149.35px;text-align:right;-webkit-text-stroke:0.6px #000;">0</div>
<div class="t" style="top:475px;font-size:12px;line-height:12px;font-weight:normal;letter-spacing:0.150px;right:1047.85px;text-align:right;-webkit-text-stroke:0.6px #000;">0</div>
<div class="t" style="top:475px;font-size:12px;line-height:12px;font-weight:normal;letter-spacing:0.150px;right:948.35px;text-align:right;-webkit-text-stroke:0.6px #000;">0</div>
<div class="t" style="top:475px;font-size:12px;line-height:12px;font-weight:normal;letter-spacing:0.150px;right:847.35px;text-align:right;-webkit-text-stroke:0.6px #000;">0</div>
<div class="t" style="top:475px;font-size:12px;line-height:12px;font-weight:normal;letter-spacing:0.150px;right:746.35px;text-align:right;-webkit-text-stroke:0.6px #000;">0</div>
<div class="t" style="top:475px;font-size:12px;line-height:12px;font-weight:normal;letter-spacing:0.150px;right:645.35px;text-align:right;-webkit-text-stroke:0.6px #000;">0</div>
<div class="t" style="top:475px;font-size:12px;line-height:12px;font-weight:normal;letter-spacing:0.150px;right:529.85px;text-align:right;-webkit-text-stroke:0.6px #000;">45,365,840</div>
<div class="t" style="top:475px;font-size:12px;line-height:12px;font-weight:normal;letter-spacing:0.150px;right:423.35px;text-align:right;-webkit-text-stroke:0.6px #000;">0</div>
<div class="t" style="top:475px;font-size:12px;line-height:12px;font-weight:normal;letter-spacing:0.150px;right:317.35px;text-align:right;-webkit-text-stroke:0.6px #000;">0</div>
<div class="t" style="top:475px;font-size:12px;line-height:12px;font-weight:normal;letter-spacing:0.150px;right:212.85px;text-align:right;-webkit-text-stroke:0.6px #000;">0</div>
<div class="t" style="top:475px;font-size:12px;line-height:12px;font-weight:normal;letter-spacing:0.150px;right:106.35px;text-align:right;-webkit-text-stroke:0.6px #000;">45,365,840</div>
<div class="t" style="top:475px;font-size:12px;line-height:12px;font-weight:normal;letter-spacing:0.150px;right:56.35px;text-align:right;-webkit-text-stroke:0.6px #000;">0%</div>
<div class="t" style="top:497px;font-size:13px;line-height:13px;font-weight:bold;letter-spacing:1.470px;left:28.00px;-webkit-text-stroke:0.6px #000;">2.1.01.02</div>
<div class="t" style="top:497px;font-size:13px;line-height:13px;font-weight:bold;letter-spacing:0.800px;left:170.00px;-webkit-text-stroke:0.6px #000;">Servicios Personales <span style="margin-right:3px">I</span>ndirectos</div>
<div class="t" style="top:496px;font-size:12px;line-height:12px;font-weight:normal;letter-spacing:0.150px;right:1250.35px;text-align:right;-webkit-text-stroke:0.6px #000;">311,697,000</div>
<div class="t" style="top:496px;font-size:12px;line-height:12px;font-weight:normal;letter-spacing:0.150px;right:1149.35px;text-align:right;-webkit-text-stroke:0.6px #000;">0</div>
<div class="t" style="top:496px;font-size:12px;line-height:12px;font-weight:normal;letter-spacing:0.150px;right:1047.85px;text-align:right;-webkit-text-stroke:0.6px #000;">0</div>
<div class="t" style="top:496px;font-size:12px;line-height:12px;font-weight:normal;letter-spacing:0.150px;right:948.35px;text-align:right;-webkit-text-stroke:0.6px #000;">39,000,000</div>
<div class="t" style="top:496px;font-size:12px;line-height:12px;font-weight:normal;letter-spacing:0.150px;right:847.35px;text-align:right;-webkit-text-stroke:0.6px #000;">0</div>
<div class="t" style="top:496px;font-size:12px;line-height:12px;font-weight:normal;letter-spacing:0.150px;right:746.35px;text-align:right;-webkit-text-stroke:0.6px #000;">0</div>
<div class="t" style="top:496px;font-size:12px;line-height:12px;font-weight:normal;letter-spacing:0.150px;right:645.35px;text-align:right;-webkit-text-stroke:0.6px #000;">0</div>
<div class="t" style="top:496px;font-size:12px;line-height:12px;font-weight:normal;letter-spacing:0.150px;right:529.85px;text-align:right;-webkit-text-stroke:0.6px #000;">350,697,000</div>
<div class="t" style="top:496px;font-size:12px;line-height:12px;font-weight:normal;letter-spacing:0.150px;right:423.35px;text-align:right;-webkit-text-stroke:0.6px #000;">322,824,800</div>
<div class="t" style="top:496px;font-size:12px;line-height:12px;font-weight:normal;letter-spacing:0.150px;right:317.35px;text-align:right;-webkit-text-stroke:0.6px #000;">20,955,466</div>
<div class="t" style="top:496px;font-size:12px;line-height:12px;font-weight:normal;letter-spacing:0.150px;right:212.85px;text-align:right;-webkit-text-stroke:0.6px #000;">20,955,466</div>
<div class="t" style="top:496px;font-size:12px;line-height:12px;font-weight:normal;letter-spacing:0.150px;right:106.35px;text-align:right;-webkit-text-stroke:0.6px #000;">27,872,200</div>
<div class="t" style="top:496px;font-size:12px;line-height:12px;font-weight:normal;letter-spacing:0.150px;right:56.35px;text-align:right;-webkit-text-stroke:0.6px #000;">92.05%</div>
<div class="t" style="top:517px;font-size:13px;line-height:13px;font-weight:normal;letter-spacing:0.600px;left:28.00px;-webkit-text-stroke:0.8px #000;">2.1.01.02.03</div>
<div class="t" style="top:517px;font-size:13px;line-height:13px;font-weight:normal;letter-spacing:0.400px;left:170.00px;-webkit-text-stroke:0.8px #000;">Honorarios</div>
<div class="t" style="top:516px;font-size:12px;line-height:12px;font-weight:normal;letter-spacing:0.150px;right:1250.35px;text-align:right;-webkit-text-stroke:0.6px #000;">311,697,000</div>
<div class="t" style="top:516px;font-size:12px;line-height:12px;font-weight:normal;letter-spacing:0.150px;right:1149.35px;text-align:right;-webkit-text-stroke:0.6px #000;">0</div>
<div class="t" style="top:516px;font-size:12px;line-height:12px;font-weight:normal;letter-spacing:0.150px;right:1047.85px;text-align:right;-webkit-text-stroke:0.6px #000;">0</div>
<div class="t" style="top:516px;font-size:12px;line-height:12px;font-weight:normal;letter-spacing:0.150px;right:948.35px;text-align:right;-webkit-text-stroke:0.6px #000;">39,000,000</div>
<div class="t" style="top:516px;font-size:12px;line-height:12px;font-weight:normal;letter-spacing:0.150px;right:847.35px;text-align:right;-webkit-text-stroke:0.6px #000;">0</div>
<div class="t" style="top:516px;font-size:12px;line-height:12px;font-weight:normal;letter-spacing:0.150px;right:746.35px;text-align:right;-webkit-text-stroke:0.6px #000;">0</div>
<div class="t" style="top:516px;font-size:12px;line-height:12px;font-weight:normal;letter-spacing:0.150px;right:645.35px;text-align:right;-webkit-text-stroke:0.6px #000;">0</div>
<div class="t" style="top:516px;font-size:12px;line-height:12px;font-weight:normal;letter-spacing:0.150px;right:529.85px;text-align:right;-webkit-text-stroke:0.6px #000;">350,697,000</div>
<div class="t" style="top:516px;font-size:12px;line-height:12px;font-weight:normal;letter-spacing:0.150px;right:423.35px;text-align:right;-webkit-text-stroke:0.6px #000;">322,824,800</div>
<div class="t" style="top:516px;font-size:12px;line-height:12px;font-weight:normal;letter-spacing:0.150px;right:317.35px;text-align:right;-webkit-text-stroke:0.6px #000;">20,955,466</div>
<div class="t" style="top:516px;font-size:12px;line-height:12px;font-weight:normal;letter-spacing:0.150px;right:212.85px;text-align:right;-webkit-text-stroke:0.6px #000;">20,955,466</div>
<div class="t" style="top:516px;font-size:12px;line-height:12px;font-weight:normal;letter-spacing:0.150px;right:106.35px;text-align:right;-webkit-text-stroke:0.6px #000;">27,872,200</div>
<div class="t" style="top:516px;font-size:12px;line-height:12px;font-weight:normal;letter-spacing:0.150px;right:56.35px;text-align:right;-webkit-text-stroke:0.6px #000;">92.05%</div>
<div class="t" style="top:537px;font-size:13px;line-height:13px;font-weight:bold;letter-spacing:1.470px;left:28.00px;-webkit-text-stroke:0.6px #000;">2.1.01.03</div>
<div class="t" style="top:537px;font-size:13px;line-height:13px;font-weight:bold;letter-spacing:0.800px;left:170.00px;-webkit-text-stroke:0.6px #000;">Aportes Patronales - Sector Público</div>
<div class="t" style="top:554px;font-size:13px;line-height:13px;font-weight:bold;letter-spacing:0.800px;left:170.00px;-webkit-text-stroke:0.6px #000;">y Privado</div>
<div class="t" style="top:536px;font-size:12px;line-height:12px;font-weight:normal;letter-spacing:0.150px;right:1250.35px;text-align:right;-webkit-text-stroke:0.6px #000;">879,749,709</div>
<div class="t" style="top:536px;font-size:12px;line-height:12px;font-weight:normal;letter-spacing:0.150px;right:1149.35px;text-align:right;-webkit-text-stroke:0.6px #000;">0</div>
<div class="t" style="top:536px;font-size:12px;line-height:12px;font-weight:normal;letter-spacing:0.150px;right:1047.85px;text-align:right;-webkit-text-stroke:0.6px #000;">0</div>
<div class="t" style="top:536px;font-size:12px;line-height:12px;font-weight:normal;letter-spacing:0.150px;right:948.35px;text-align:right;-webkit-text-stroke:0.6px #000;">3,000,000</div>
<div class="t" style="top:536px;font-size:12px;line-height:12px;font-weight:normal;letter-spacing:0.150px;right:847.35px;text-align:right;-webkit-text-stroke:0.6px #000;">3,000,000</div>
<div class="t" style="top:536px;font-size:12px;line-height:12px;font-weight:normal;letter-spacing:0.150px;right:746.35px;text-align:right;-webkit-text-stroke:0.6px #000;">0</div>
<div class="t" style="top:536px;font-size:12px;line-height:12px;font-weight:normal;letter-spacing:0.150px;right:645.35px;text-align:right;-webkit-text-stroke:0.6px #000;">0</div>
<div class="t" style="top:536px;font-size:12px;line-height:12px;font-weight:normal;letter-spacing:0.150px;right:529.85px;text-align:right;-webkit-text-stroke:0.6px #000;">879,749,709</div>
<div class="t" style="top:536px;font-size:12px;line-height:12px;font-weight:normal;letter-spacing:0.150px;right:423.35px;text-align:right;-webkit-text-stroke:0.6px #000;">44,290,500</div>
<div class="t" style="top:536px;font-size:12px;line-height:12px;font-weight:normal;letter-spacing:0.150px;right:317.35px;text-align:right;-webkit-text-stroke:0.6px #000;">44,290,500</div>
<div class="t" style="top:536px;font-size:12px;line-height:12px;font-weight:normal;letter-spacing:0.150px;right:212.85px;text-align:right;-webkit-text-stroke:0.6px #000;">44,290,500</div>
<div class="t" style="top:536px;font-size:12px;line-height:12px;font-weight:normal;letter-spacing:0.150px;right:106.35px;text-align:right;-webkit-text-stroke:0.6px #000;">835,459,209</div>
<div class="t" style="top:536px;font-size:12px;line-height:12px;font-weight:normal;letter-spacing:0.150px;right:56.35px;text-align:right;-webkit-text-stroke:0.6px #000;">5.03%</div>
<div class="t" style="top:573px;font-size:13px;line-height:13px;font-weight:bold;letter-spacing:1.470px;left:28.00px;-webkit-text-stroke:0.6px #000;">2.1.01.03.01</div>
<div class="t" style="top:573px;font-size:13px;line-height:13px;font-weight:bold;letter-spacing:0.800px;left:170.00px;-webkit-text-stroke:0.6px #000;">Al Sector Público</div>
<div class="t" style="top:572px;font-size:12px;line-height:12px;font-weight:normal;letter-spacing:0.150px;right:1250.35px;text-align:right;-webkit-text-stroke:0.6px #000;">366,929,955</div>
<div class="t" style="top:572px;font-size:12px;line-height:12px;font-weight:normal;letter-spacing:0.150px;right:1149.35px;text-align:right;-webkit-text-stroke:0.6px #000;">0</div>
<div class="t" style="top:572px;font-size:12px;line-height:12px;font-weight:normal;letter-spacing:0.150px;right:1047.85px;text-align:right;-webkit-text-stroke:0.6px #000;">0</div>
<div class="t" style="top:572px;font-size:12px;line-height:12px;font-weight:normal;letter-spacing:0.150px;right:948.35px;text-align:right;-webkit-text-stroke:0.6px #000;">0</div>
<div class="t" style="top:572px;font-size:12px;line-height:12px;font-weight:normal;letter-spacing:0.150px;right:847.35px;text-align:right;-webkit-text-stroke:0.6px #000;">0</div>
<div class="t" style="top:572px;font-size:12px;line-height:12px;font-weight:normal;letter-spacing:0.150px;right:746.35px;text-align:right;-webkit-text-stroke:0.6px #000;">0</div>
<div class="t" style="top:572px;font-size:12px;line-height:12px;font-weight:normal;letter-spacing:0.150px;right:645.35px;text-align:right;-webkit-text-stroke:0.6px #000;">0</div>
<div class="t" style="top:572px;font-size:12px;line-height:12px;font-weight:normal;letter-spacing:0.150px;right:529.85px;text-align:right;-webkit-text-stroke:0.6px #000;">366,929,955</div>
<div class="t" style="top:572px;font-size:12px;line-height:12px;font-weight:normal;letter-spacing:0.150px;right:423.35px;text-align:right;-webkit-text-stroke:0.6px #000;">7,207,700</div>
<div class="t" style="top:572px;font-size:12px;line-height:12px;font-weight:normal;letter-spacing:0.150px;right:317.35px;text-align:right;-webkit-text-stroke:0.6px #000;">7,207,700</div>
<div class="t" style="top:572px;font-size:12px;line-height:12px;font-weight:normal;letter-spacing:0.150px;right:212.85px;text-align:right;-webkit-text-stroke:0.6px #000;">7,207,700</div>
<div class="t" style="top:572px;font-size:12px;line-height:12px;font-weight:normal;letter-spacing:0.150px;right:106.35px;text-align:right;-webkit-text-stroke:0.6px #000;">359,722,255</div>
<div class="t" style="top:572px;font-size:12px;line-height:12px;font-weight:normal;letter-spacing:0.150px;right:56.35px;text-align:right;-webkit-text-stroke:0.6px #000;">1.96%</div>
<div class="t" style="top:593px;font-size:13px;line-height:13px;font-weight:bold;letter-spacing:1.470px;left:28.00px;-webkit-text-stroke:0.6px #000;">2.1.01.03.01.01</div>
<div class="t" style="top:593px;font-size:13px;line-height:13px;font-weight:bold;letter-spacing:0.800px;left:170.00px;-webkit-text-stroke:0.6px #000;">Aportes Previsión Social</div>
<div class="t" style="top:592px;font-size:12px;line-height:12px;font-weight:normal;letter-spacing:0.150px;right:1250.35px;text-align:right;-webkit-text-stroke:0.6px #000;">221,308,253</div>
<div class="t" style="top:592px;font-size:12px;line-height:12px;font-weight:normal;letter-spacing:0.150px;right:1149.35px;text-align:right;-webkit-text-stroke:0.6px #000;">0</div>
<div class="t" style="top:592px;font-size:12px;line-height:12px;font-weight:normal;letter-spacing:0.150px;right:1047.85px;text-align:right;-webkit-text-stroke:0.6px #000;">0</div>
<div class="t" style="top:592px;font-size:12px;line-height:12px;font-weight:normal;letter-spacing:0.150px;right:948.35px;text-align:right;-webkit-text-stroke:0.6px #000;">0</div>
<div class="t" style="top:592px;font-size:12px;line-height:12px;font-weight:normal;letter-spacing:0.150px;right:847.35px;text-align:right;-webkit-text-stroke:0.6px #000;">0</div>
<div class="t" style="top:592px;font-size:12px;line-height:12px;font-weight:normal;letter-spacing:0.150px;right:746.35px;text-align:right;-webkit-text-stroke:0.6px #000;">0</div>
<div class="t" style="top:592px;font-size:12px;line-height:12px;font-weight:normal;letter-spacing:0.150px;right:645.35px;text-align:right;-webkit-text-stroke:0.6px #000;">0</div>
<div class="t" style="top:592px;font-size:12px;line-height:12px;font-weight:normal;letter-spacing:0.150px;right:529.85px;text-align:right;-webkit-text-stroke:0.6px #000;">221,308,253</div>
<div class="t" style="top:592px;font-size:12px;line-height:12px;font-weight:normal;letter-spacing:0.150px;right:423.35px;text-align:right;-webkit-text-stroke:0.6px #000;">0</div>
<div class="t" style="top:592px;font-size:12px;line-height:12px;font-weight:normal;letter-spacing:0.150px;right:317.35px;text-align:right;-webkit-text-stroke:0.6px #000;">0</div>
<div class="t" style="top:592px;font-size:12px;line-height:12px;font-weight:normal;letter-spacing:0.150px;right:212.85px;text-align:right;-webkit-text-stroke:0.6px #000;">0</div>
<div class="t" style="top:592px;font-size:12px;line-height:12px;font-weight:normal;letter-spacing:0.150px;right:106.35px;text-align:right;-webkit-text-stroke:0.6px #000;">221,308,253</div>
<div class="t" style="top:592px;font-size:12px;line-height:12px;font-weight:normal;letter-spacing:0.150px;right:56.35px;text-align:right;-webkit-text-stroke:0.6px #000;">0%</div>
<div class="t" style="top:613px;font-size:13px;line-height:13px;font-weight:normal;letter-spacing:0.600px;left:28.00px;-webkit-text-stroke:0.8px #000;">2.1.01.03.01.01.01</div>
<div class="t" style="top:613px;font-size:13px;line-height:13px;font-weight:normal;letter-spacing:0.400px;left:170.00px;-webkit-text-stroke:0.8px #000;">Cesantías</div>
<div class="t" style="top:612px;font-size:12px;line-height:12px;font-weight:normal;letter-spacing:0.150px;right:1250.35px;text-align:right;-webkit-text-stroke:0.6px #000;">221,308,253</div>
<div class="t" style="top:612px;font-size:12px;line-height:12px;font-weight:normal;letter-spacing:0.150px;right:1149.35px;text-align:right;-webkit-text-stroke:0.6px #000;">0</div>
<div class="t" style="top:612px;font-size:12px;line-height:12px;font-weight:normal;letter-spacing:0.150px;right:1047.85px;text-align:right;-webkit-text-stroke:0.6px #000;">0</div>
<div class="t" style="top:612px;font-size:12px;line-height:12px;font-weight:normal;letter-spacing:0.150px;right:948.35px;text-align:right;-webkit-text-stroke:0.6px #000;">0</div>
<div class="t" style="top:612px;font-size:12px;line-height:12px;font-weight:normal;letter-spacing:0.150px;right:847.35px;text-align:right;-webkit-text-stroke:0.6px #000;">0</div>
<div class="t" style="top:612px;font-size:12px;line-height:12px;font-weight:normal;letter-spacing:0.150px;right:746.35px;text-align:right;-webkit-text-stroke:0.6px #000;">0</div>
<div class="t" style="top:612px;font-size:12px;line-height:12px;font-weight:normal;letter-spacing:0.150px;right:645.35px;text-align:right;-webkit-text-stroke:0.6px #000;">0</div>
<div class="t" style="top:612px;font-size:12px;line-height:12px;font-weight:normal;letter-spacing:0.150px;right:529.85px;text-align:right;-webkit-text-stroke:0.6px #000;">221,308,253</div>
<div class="t" style="top:612px;font-size:12px;line-height:12px;font-weight:normal;letter-spacing:0.150px;right:423.35px;text-align:right;-webkit-text-stroke:0.6px #000;">0</div>
<div class="t" style="top:612px;font-size:12px;line-height:12px;font-weight:normal;letter-spacing:0.150px;right:317.35px;text-align:right;-webkit-text-stroke:0.6px #000;">0</div>
<div class="t" style="top:612px;font-size:12px;line-height:12px;font-weight:normal;letter-spacing:0.150px;right:212.85px;text-align:right;-webkit-text-stroke:0.6px #000;">0</div>
<div class="t" style="top:612px;font-size:12px;line-height:12px;font-weight:normal;letter-spacing:0.150px;right:106.35px;text-align:right;-webkit-text-stroke:0.6px #000;">221,308,253</div>
<div class="t" style="top:612px;font-size:12px;line-height:12px;font-weight:normal;letter-spacing:0.150px;right:56.35px;text-align:right;-webkit-text-stroke:0.6px #000;">0%</div>
<div class="t" style="top:633px;font-size:13px;line-height:13px;font-weight:bold;letter-spacing:1.470px;left:28.00px;-webkit-text-stroke:0.6px #000;">2.1.01.03.01.03</div>
<div class="t" style="top:633px;font-size:13px;line-height:13px;font-weight:bold;letter-spacing:0.800px;left:170.00px;-webkit-text-stroke:0.6px #000;">Aportes Parafiscales</div>
<div class="t" style="top:632px;font-size:12px;line-height:12px;font-weight:normal;letter-spacing:0.150px;right:1250.35px;text-align:right;-webkit-text-stroke:0.6px #000;">145,621,702</div>
<div class="t" style="top:632px;font-size:12px;line-height:12px;font-weight:normal;letter-spacing:0.150px;right:1149.35px;text-align:right;-webkit-text-stroke:0.6px #000;">0</div>
<div class="t" style="top:632px;font-size:12px;line-height:12px;font-weight:normal;letter-spacing:0.150px;right:1047.85px;text-align:right;-webkit-text-stroke:0.6px #000;">0</div>
<div class="t" style="top:632px;font-size:12px;line-height:12px;font-weight:normal;letter-spacing:0.150px;right:948.35px;text-align:right;-webkit-text-stroke:0.6px #000;">0</div>
<div class="t" style="top:632px;font-size:12px;line-height:12px;font-weight:normal;letter-spacing:0.150px;right:847.35px;text-align:right;-webkit-text-stroke:0.6px #000;">0</div>
<div class="t" style="top:632px;font-size:12px;line-height:12px;font-weight:normal;letter-spacing:0.150px;right:746.35px;text-align:right;-webkit-text-stroke:0.6px #000;">0</div>
<div class="t" style="top:632px;font-size:12px;line-height:12px;font-weight:normal;letter-spacing:0.150px;right:645.35px;text-align:right;-webkit-text-stroke:0.6px #000;">0</div>
<div class="t" style="top:632px;font-size:12px;line-height:12px;font-weight:normal;letter-spacing:0.150px;right:529.85px;text-align:right;-webkit-text-stroke:0.6px #000;">145,621,702</div>
<div class="t" style="top:632px;font-size:12px;line-height:12px;font-weight:normal;letter-spacing:0.150px;right:423.35px;text-align:right;-webkit-text-stroke:0.6px #000;">7,207,700</div>
<div class="t" style="top:632px;font-size:12px;line-height:12px;font-weight:normal;letter-spacing:0.150px;right:317.35px;text-align:right;-webkit-text-stroke:0.6px #000;">7,207,700</div>
<div class="t" style="top:632px;font-size:12px;line-height:12px;font-weight:normal;letter-spacing:0.150px;right:212.85px;text-align:right;-webkit-text-stroke:0.6px #000;">7,207,700</div>
<div class="t" style="top:632px;font-size:12px;line-height:12px;font-weight:normal;letter-spacing:0.150px;right:106.35px;text-align:right;-webkit-text-stroke:0.6px #000;">138,414,002</div>
<div class="t" style="top:632px;font-size:12px;line-height:12px;font-weight:normal;letter-spacing:0.150px;right:56.35px;text-align:right;-webkit-text-stroke:0.6px #000;">4.95%</div>
<div class="t" style="top:653px;font-size:13px;line-height:13px;font-weight:normal;letter-spacing:0.600px;left:28.00px;-webkit-text-stroke:0.8px #000;">2.1.01.03.01.03.01</div>
<div class="t" style="top:653px;font-size:13px;line-height:13px;font-weight:normal;letter-spacing:0.400px;left:170.00px;-webkit-text-stroke:0.8px #000;">Servicio Nacional de Aprendizaje -SENA</div>
<div class="t" style="top:652px;font-size:12px;line-height:12px;font-weight:normal;letter-spacing:0.150px;right:1250.35px;text-align:right;-webkit-text-stroke:0.6px #000;">63,443,117</div>
<div class="t" style="top:652px;font-size:12px;line-height:12px;font-weight:normal;letter-spacing:0.150px;right:1149.35px;text-align:right;-webkit-text-stroke:0.6px #000;">0</div>
<div class="t" style="top:652px;font-size:12px;line-height:12px;font-weight:normal;letter-spacing:0.150px;right:1047.85px;text-align:right;-webkit-text-stroke:0.6px #000;">0</div>
<div class="t" style="top:652px;font-size:12px;line-height:12px;font-weight:normal;letter-spacing:0.150px;right:948.35px;text-align:right;-webkit-text-stroke:0.6px #000;">0</div>
<div class="t" style="top:652px;font-size:12px;line-height:12px;font-weight:normal;letter-spacing:0.150px;right:847.35px;text-align:right;-webkit-text-stroke:0.6px #000;">0</div>
<div class="t" style="top:652px;font-size:12px;line-height:12px;font-weight:normal;letter-spacing:0.150px;right:746.35px;text-align:right;-webkit-text-stroke:0.6px #000;">0</div>
<div class="t" style="top:652px;font-size:12px;line-height:12px;font-weight:normal;letter-spacing:0.150px;right:645.35px;text-align:right;-webkit-text-stroke:0.6px #000;">0</div>
<div class="t" style="top:652px;font-size:12px;line-height:12px;font-weight:normal;letter-spacing:0.150px;right:529.85px;text-align:right;-webkit-text-stroke:0.6px #000;">63,443,117</div>
<div class="t" style="top:652px;font-size:12px;line-height:12px;font-weight:normal;letter-spacing:0.150px;right:423.35px;text-align:right;-webkit-text-stroke:0.6px #000;">2,883,200</div>
<div class="t" style="top:652px;font-size:12px;line-height:12px;font-weight:normal;letter-spacing:0.150px;right:317.35px;text-align:right;-webkit-text-stroke:0.6px #000;">2,883,200</div>
<div class="t" style="top:652px;font-size:12px;line-height:12px;font-weight:normal;letter-spacing:0.150px;right:212.85px;text-align:right;-webkit-text-stroke:0.6px #000;">2,883,200</div>
<div class="t" style="top:652px;font-size:12px;line-height:12px;font-weight:normal;letter-spacing:0.150px;right:106.35px;text-align:right;-webkit-text-stroke:0.6px #000;">60,559,917</div>
<div class="t" style="top:652px;font-size:12px;line-height:12px;font-weight:normal;letter-spacing:0.150px;right:56.35px;text-align:right;-webkit-text-stroke:0.6px #000;">4.55%</div>
<div class="t" style="top:674px;font-size:13px;line-height:13px;font-weight:normal;letter-spacing:0.600px;left:28.00px;-webkit-text-stroke:0.8px #000;">2.1.01.03.01.03.03</div>
<div class="t" style="top:674px;font-size:13px;line-height:13px;font-weight:normal;letter-spacing:0.400px;left:170.00px;-webkit-text-stroke:0.8px #000;">Instituto Colombiano de Bienestar</div>
<div class="t" style="top:691px;font-size:13px;line-height:13px;font-weight:normal;letter-spacing:0.400px;left:170.00px;-webkit-text-stroke:0.8px #000;">Familiar -ICBF</div>
<div class="t" style="top:673px;font-size:12px;line-height:12px;font-weight:normal;letter-spacing:0.150px;right:1250.35px;text-align:right;-webkit-text-stroke:0.6px #000;">82,178,585</div>
<div class="t" style="top:673px;font-size:12px;line-height:12px;font-weight:normal;letter-spacing:0.150px;right:1149.35px;text-align:right;-webkit-text-stroke:0.6px #000;">0</div>
<div class="t" style="top:673px;font-size:12px;line-height:12px;font-weight:normal;letter-spacing:0.150px;right:1047.85px;text-align:right;-webkit-text-stroke:0.6px #000;">0</div>
<div class="t" style="top:673px;font-size:12px;line-height:12px;font-weight:normal;letter-spacing:0.150px;right:948.35px;text-align:right;-webkit-text-stroke:0.6px #000;">0</div>
<div class="t" style="top:673px;font-size:12px;line-height:12px;font-weight:normal;letter-spacing:0.150px;right:847.35px;text-align:right;-webkit-text-stroke:0.6px #000;">0</div>
<div class="t" style="top:673px;font-size:12px;line-height:12px;font-weight:normal;letter-spacing:0.150px;right:746.35px;text-align:right;-webkit-text-stroke:0.6px #000;">0</div>
<div class="t" style="top:673px;font-size:12px;line-height:12px;font-weight:normal;letter-spacing:0.150px;right:645.35px;text-align:right;-webkit-text-stroke:0.6px #000;">0</div>
<div class="t" style="top:673px;font-size:12px;line-height:12px;font-weight:normal;letter-spacing:0.150px;right:529.85px;text-align:right;-webkit-text-stroke:0.6px #000;">82,178,585</div>
<div class="t" style="top:673px;font-size:12px;line-height:12px;font-weight:normal;letter-spacing:0.150px;right:423.35px;text-align:right;-webkit-text-stroke:0.6px #000;">4,324,500</div>
<div class="t" style="top:673px;font-size:12px;line-height:12px;font-weight:normal;letter-spacing:0.150px;right:317.35px;text-align:right;-webkit-text-stroke:0.6px #000;">4,324,500</div>
<div class="t" style="top:673px;font-size:12px;line-height:12px;font-weight:normal;letter-spacing:0.150px;right:212.85px;text-align:right;-webkit-text-stroke:0.6px #000;">4,324,500</div>
<div class="t" style="top:673px;font-size:12px;line-height:12px;font-weight:normal;letter-spacing:0.150px;right:106.35px;text-align:right;-webkit-text-stroke:0.6px #000;">77,854,085</div>
<div class="t" style="top:673px;font-size:12px;line-height:12px;font-weight:normal;letter-spacing:0.150px;right:56.35px;text-align:right;-webkit-text-stroke:0.6px #000;">5.26%</div>
<div class="t" style="top:710px;font-size:13px;line-height:13px;font-weight:bold;letter-spacing:1.470px;left:28.00px;-webkit-text-stroke:0.6px #000;">2.1.01.03.03</div>
<div class="t" style="top:710px;font-size:13px;line-height:13px;font-weight:bold;letter-spacing:0.800px;left:170.00px;-webkit-text-stroke:0.6px #000;">Al Sector Privado</div>
<div class="t" style="top:709px;font-size:12px;line-height:12px;font-weight:normal;letter-spacing:0.150px;right:1250.35px;text-align:right;-webkit-text-stroke:0.6px #000;">512,819,754</div>
<div class="t" style="top:709px;font-size:12px;line-height:12px;font-weight:normal;letter-spacing:0.150px;right:1149.35px;text-align:right;-webkit-text-stroke:0.6px #000;">0</div>
<div class="t" style="top:709px;font-size:12px;line-height:12px;font-weight:normal;letter-spacing:0.150px;right:1047.85px;text-align:right;-webkit-text-stroke:0.6px #000;">0</div>
<div class="t" style="top:709px;font-size:12px;line-height:12px;font-weight:normal;letter-spacing:0.150px;right:948.35px;text-align:right;-webkit-text-stroke:0.6px #000;">3,000,000</div>
<div class="t" style="top:709px;font-size:12px;line-height:12px;font-weight:normal;letter-spacing:0.150px;right:847.35px;text-align:right;-webkit-text-stroke:0.6px #000;">3,000,000</div>
<div class="t" style="top:709px;font-size:12px;line-height:12px;font-weight:normal;letter-spacing:0.150px;right:746.35px;text-align:right;-webkit-text-stroke:0.6px #000;">0</div>
<div class="t" style="top:709px;font-size:12px;line-height:12px;font-weight:normal;letter-spacing:0.150px;right:645.35px;text-align:right;-webkit-text-stroke:0.6px #000;">0</div>
<div class="t" style="top:709px;font-size:12px;line-height:12px;font-weight:normal;letter-spacing:0.150px;right:529.85px;text-align:right;-webkit-text-stroke:0.6px #000;">512,819,754</div>
<div class="t" style="top:709px;font-size:12px;line-height:12px;font-weight:normal;letter-spacing:0.150px;right:423.35px;text-align:right;-webkit-text-stroke:0.6px #000;">37,082,800</div>
<div class="t" style="top:709px;font-size:12px;line-height:12px;font-weight:normal;letter-spacing:0.150px;right:317.35px;text-align:right;-webkit-text-stroke:0.6px #000;">37,082,800</div>
<div class="t" style="top:709px;font-size:12px;line-height:12px;font-weight:normal;letter-spacing:0.150px;right:212.85px;text-align:right;-webkit-text-stroke:0.6px #000;">37,082,800</div>
<div class="t" style="top:709px;font-size:12px;line-height:12px;font-weight:normal;letter-spacing:0.150px;right:106.35px;text-align:right;-webkit-text-stroke:0.6px #000;">475,736,954</div>
<div class="t" style="top:709px;font-size:12px;line-height:12px;font-weight:normal;letter-spacing:0.150px;right:56.35px;text-align:right;-webkit-text-stroke:0.6px #000;">7.23%</div>
<div class="t" style="top:730px;font-size:13px;line-height:13px;font-weight:bold;letter-spacing:1.470px;left:28.00px;-webkit-text-stroke:0.6px #000;">2.1.01.03.03.01</div>
<div class="t" style="top:730px;font-size:13px;line-height:13px;font-weight:bold;letter-spacing:0.800px;left:170.00px;-webkit-text-stroke:0.6px #000;">Aportes Previsión Social</div>
<div class="t" style="top:729px;font-size:12px;line-height:12px;font-weight:normal;letter-spacing:0.150px;right:1250.35px;text-align:right;-webkit-text-stroke:0.6px #000;">401,675,040</div>
<div class="t" style="top:729px;font-size:12px;line-height:12px;font-weight:normal;letter-spacing:0.150px;right:1149.35px;text-align:right;-webkit-text-stroke:0.6px #000;">0</div>
<div class="t" style="top:729px;font-size:12px;line-height:12px;font-weight:normal;letter-spacing:0.150px;right:1047.85px;text-align:right;-webkit-text-stroke:0.6px #000;">0</div>
<div class="t" style="top:729px;font-size:12px;line-height:12px;font-weight:normal;letter-spacing:0.150px;right:948.35px;text-align:right;-webkit-text-stroke:0.6px #000;">0</div>
<div class="t" style="top:729px;font-size:12px;line-height:12px;font-weight:normal;letter-spacing:0.150px;right:847.35px;text-align:right;-webkit-text-stroke:0.6px #000;">0</div>
<div class="t" style="top:729px;font-size:12px;line-height:12px;font-weight:normal;letter-spacing:0.150px;right:746.35px;text-align:right;-webkit-text-stroke:0.6px #000;">0</div>
<div class="t" style="top:729px;font-size:12px;line-height:12px;font-weight:normal;letter-spacing:0.150px;right:645.35px;text-align:right;-webkit-text-stroke:0.6px #000;">0</div>
<div class="t" style="top:729px;font-size:12px;line-height:12px;font-weight:normal;letter-spacing:0.150px;right:529.85px;text-align:right;-webkit-text-stroke:0.6px #000;">401,675,040</div>
<div class="t" style="top:729px;font-size:12px;line-height:12px;font-weight:normal;letter-spacing:0.150px;right:423.35px;text-align:right;-webkit-text-stroke:0.6px #000;">30,626,400</div>
<div class="t" style="top:729px;font-size:12px;line-height:12px;font-weight:normal;letter-spacing:0.150px;right:317.35px;text-align:right;-webkit-text-stroke:0.6px #000;">30,626,400</div>
<div class="t" style="top:729px;font-size:12px;line-height:12px;font-weight:normal;letter-spacing:0.150px;right:212.85px;text-align:right;-webkit-text-stroke:0.6px #000;">30,626,400</div>
<div class="t" style="top:729px;font-size:12px;line-height:12px;font-weight:normal;letter-spacing:0.150px;right:106.35px;text-align:right;-webkit-text-stroke:0.6px #000;">371,048,640</div>
<div class="t" style="top:729px;font-size:12px;line-height:12px;font-weight:normal;letter-spacing:0.150px;right:56.35px;text-align:right;-webkit-text-stroke:0.6px #000;">7.63%</div>
<div class="t" style="top:750px;font-size:13px;line-height:13px;font-weight:normal;letter-spacing:0.600px;left:28.00px;-webkit-text-stroke:0.8px #000;">2.1.01.03.03.01.03</div>
<div class="t" style="top:750px;font-size:13px;line-height:13px;font-weight:normal;letter-spacing:0.400px;left:170.00px;-webkit-text-stroke:0.8px #000;">Fondos de Pensiones</div>
<div class="t" style="top:749px;font-size:12px;line-height:12px;font-weight:normal;letter-spacing:0.150px;right:1250.35px;text-align:right;-webkit-text-stroke:0.6px #000;">235,125,280</div>
<div class="t" style="top:749px;font-size:12px;line-height:12px;font-weight:normal;letter-spacing:0.150px;right:1149.35px;text-align:right;-webkit-text-stroke:0.6px #000;">0</div>
<div class="t" style="top:749px;font-size:12px;line-height:12px;font-weight:normal;letter-spacing:0.150px;right:1047.85px;text-align:right;-webkit-text-stroke:0.6px #000;">0</div>
<div class="t" style="top:749px;font-size:12px;line-height:12px;font-weight:normal;letter-spacing:0.150px;right:948.35px;text-align:right;-webkit-text-stroke:0.6px #000;">0</div>
<div class="t" style="top:749px;font-size:12px;line-height:12px;font-weight:normal;letter-spacing:0.150px;right:847.35px;text-align:right;-webkit-text-stroke:0.6px #000;">0</div>
<div class="t" style="top:749px;font-size:12px;line-height:12px;font-weight:normal;letter-spacing:0.150px;right:746.35px;text-align:right;-webkit-text-stroke:0.6px #000;">0</div>
<div class="t" style="top:749px;font-size:12px;line-height:12px;font-weight:normal;letter-spacing:0.150px;right:645.35px;text-align:right;-webkit-text-stroke:0.6px #000;">0</div>
<div class="t" style="top:749px;font-size:12px;line-height:12px;font-weight:normal;letter-spacing:0.150px;right:529.85px;text-align:right;-webkit-text-stroke:0.6px #000;">235,125,280</div>
<div class="t" style="top:749px;font-size:12px;line-height:12px;font-weight:normal;letter-spacing:0.150px;right:423.35px;text-align:right;-webkit-text-stroke:0.6px #000;">17,928,100</div>
<div class="t" style="top:749px;font-size:12px;line-height:12px;font-weight:normal;letter-spacing:0.150px;right:317.35px;text-align:right;-webkit-text-stroke:0.6px #000;">17,928,100</div>
<div class="t" style="top:749px;font-size:12px;line-height:12px;font-weight:normal;letter-spacing:0.150px;right:212.85px;text-align:right;-webkit-text-stroke:0.6px #000;">17,928,100</div>
<div class="t" style="top:749px;font-size:12px;line-height:12px;font-weight:normal;letter-spacing:0.150px;right:106.35px;text-align:right;-webkit-text-stroke:0.6px #000;">217,197,180</div>
<div class="t" style="top:749px;font-size:12px;line-height:12px;font-weight:normal;letter-spacing:0.150px;right:56.35px;text-align:right;-webkit-text-stroke:0.6px #000;">7.63%</div>
<div class="t" style="top:770px;font-size:13px;line-height:13px;font-weight:normal;letter-spacing:0.600px;left:28.00px;-webkit-text-stroke:0.8px #000;">2.1.01.03.03.01.05</div>
<div class="t" style="top:770px;font-size:13px;line-height:13px;font-weight:normal;letter-spacing:0.400px;left:170.00px;-webkit-text-stroke:0.8px #000;">Empresas Promotoras de Salud</div>
<div class="t" style="top:769px;font-size:12px;line-height:12px;font-weight:normal;letter-spacing:0.150px;right:1250.35px;text-align:right;-webkit-text-stroke:0.6px #000;">166,549,760</div>
<div class="t" style="top:769px;font-size:12px;line-height:12px;font-weight:normal;letter-spacing:0.150px;right:1149.35px;text-align:right;-webkit-text-stroke:0.6px #000;">0</div>
<div class="t" style="top:769px;font-size:12px;line-height:12px;font-weight:normal;letter-spacing:0.150px;right:1047.85px;text-align:right;-webkit-text-stroke:0.6px #000;">0</div>
<div class="t" style="top:769px;font-size:12px;line-height:12px;font-weight:normal;letter-spacing:0.150px;right:948.35px;text-align:right;-webkit-text-stroke:0.6px #000;">0</div>
<div class="t" style="top:769px;font-size:12px;line-height:12px;font-weight:normal;letter-spacing:0.150px;right:847.35px;text-align:right;-webkit-text-stroke:0.6px #000;">0</div>
<div class="t" style="top:769px;font-size:12px;line-height:12px;font-weight:normal;letter-spacing:0.150px;right:746.35px;text-align:right;-webkit-text-stroke:0.6px #000;">0</div>
<div class="t" style="top:769px;font-size:12px;line-height:12px;font-weight:normal;letter-spacing:0.150px;right:645.35px;text-align:right;-webkit-text-stroke:0.6px #000;">0</div>
<div class="t" style="top:769px;font-size:12px;line-height:12px;font-weight:normal;letter-spacing:0.150px;right:529.85px;text-align:right;-webkit-text-stroke:0.6px #000;">166,549,760</div>
<div class="t" style="top:769px;font-size:12px;line-height:12px;font-weight:normal;letter-spacing:0.150px;right:423.35px;text-align:right;-webkit-text-stroke:0.6px #000;">12,698,300</div>
<div class="t" style="top:769px;font-size:12px;line-height:12px;font-weight:normal;letter-spacing:0.150px;right:317.35px;text-align:right;-webkit-text-stroke:0.6px #000;">12,698,300</div>
<div class="t" style="top:769px;font-size:12px;line-height:12px;font-weight:normal;letter-spacing:0.150px;right:212.85px;text-align:right;-webkit-text-stroke:0.6px #000;">12,698,300</div>
<div class="t" style="top:769px;font-size:12px;line-height:12px;font-weight:normal;letter-spacing:0.150px;right:106.35px;text-align:right;-webkit-text-stroke:0.6px #000;">153,851,460</div>
<div class="t" style="top:769px;font-size:12px;line-height:12px;font-weight:normal;letter-spacing:0.150px;right:56.35px;text-align:right;-webkit-text-stroke:0.6px #000;">7.62%</div>
<div class="t" style="top:790px;font-size:13px;line-height:13px;font-weight:normal;letter-spacing:0.600px;left:28.00px;-webkit-text-stroke:0.8px #000;">2.1.01.03.03.02</div>
<div class="t" style="top:790px;font-size:13px;line-height:13px;font-weight:normal;letter-spacing:0.400px;left:170.00px;-webkit-text-stroke:0.8px #000;">Administradoras Riesgos Profesionales</div>
<div class="t" style="top:789px;font-size:12px;line-height:12px;font-weight:normal;letter-spacing:0.150px;right:1250.35px;text-align:right;-webkit-text-stroke:0.6px #000;">10,229,440</div>
<div class="t" style="top:789px;font-size:12px;line-height:12px;font-weight:normal;letter-spacing:0.150px;right:1149.35px;text-align:right;-webkit-text-stroke:0.6px #000;">0</div>
<div class="t" style="top:789px;font-size:12px;line-height:12px;font-weight:normal;letter-spacing:0.150px;right:1047.85px;text-align:right;-webkit-text-stroke:0.6px #000;">0</div>
<div class="t" style="top:789px;font-size:12px;line-height:12px;font-weight:normal;letter-spacing:0.150px;right:948.35px;text-align:right;-webkit-text-stroke:0.6px #000;">3,000,000</div>
<div class="t" style="top:789px;font-size:12px;line-height:12px;font-weight:normal;letter-spacing:0.150px;right:847.35px;text-align:right;-webkit-text-stroke:0.6px #000;">3,000,000</div>
<div class="t" style="top:789px;font-size:12px;line-height:12px;font-weight:normal;letter-spacing:0.150px;right:746.35px;text-align:right;-webkit-text-stroke:0.6px #000;">0</div>
<div class="t" style="top:789px;font-size:12px;line-height:12px;font-weight:normal;letter-spacing:0.150px;right:645.35px;text-align:right;-webkit-text-stroke:0.6px #000;">0</div>
<div class="t" style="top:789px;font-size:12px;line-height:12px;font-weight:normal;letter-spacing:0.150px;right:529.85px;text-align:right;-webkit-text-stroke:0.6px #000;">10,229,440</div>
<div class="t" style="top:789px;font-size:12px;line-height:12px;font-weight:normal;letter-spacing:0.150px;right:423.35px;text-align:right;-webkit-text-stroke:0.6px #000;">690,800</div>
<div class="t" style="top:789px;font-size:12px;line-height:12px;font-weight:normal;letter-spacing:0.150px;right:317.35px;text-align:right;-webkit-text-stroke:0.6px #000;">690,800</div>
<div class="t" style="top:789px;font-size:12px;line-height:12px;font-weight:normal;letter-spacing:0.150px;right:212.85px;text-align:right;-webkit-text-stroke:0.6px #000;">690,800</div>
<div class="t" style="top:789px;font-size:12px;line-height:12px;font-weight:normal;letter-spacing:0.150px;right:106.35px;text-align:right;-webkit-text-stroke:0.6px #000;">9,538,640</div>
<div class="t" style="top:789px;font-size:12px;line-height:12px;font-weight:normal;letter-spacing:0.150px;right:56.35px;text-align:right;-webkit-text-stroke:0.6px #000;">6.75%</div>
<div class="t" style="top:810px;font-size:13px;line-height:13px;font-weight:normal;letter-spacing:0.600px;left:28.00px;-webkit-text-stroke:0.8px #000;">2.1.01.03.03.03</div>
<div class="t" style="top:810px;font-size:13px;line-height:13px;font-weight:normal;letter-spacing:0.400px;left:170.00px;-webkit-text-stroke:0.8px #000;">Aportes Parafiscales a las Cajas de</div>
<div class="t" style="top:827px;font-size:13px;line-height:13px;font-weight:normal;letter-spacing:0.400px;left:170.00px;-webkit-text-stroke:0.8px #000;">Compensación Familiar</div>
<div class="t" style="top:809px;font-size:12px;line-height:12px;font-weight:normal;letter-spacing:0.150px;right:1250.35px;text-align:right;-webkit-text-stroke:0.6px #000;">100,915,274</div>
<div class="t" style="top:809px;font-size:12px;line-height:12px;font-weight:normal;letter-spacing:0.150px;right:1149.35px;text-align:right;-webkit-text-stroke:0.6px #000;">0</div>
<div class="t" style="top:809px;font-size:12px;line-height:12px;font-weight:normal;letter-spacing:0.150px;right:1047.85px;text-align:right;-webkit-text-stroke:0.6px #000;">0</div>
<div class="t" style="top:809px;font-size:12px;line-height:12px;font-weight:normal;letter-spacing:0.150px;right:948.35px;text-align:right;-webkit-text-stroke:0.6px #000;">0</div>
<div class="t" style="top:809px;font-size:12px;line-height:12px;font-weight:normal;letter-spacing:0.150px;right:847.35px;text-align:right;-webkit-text-stroke:0.6px #000;">0</div>
<div class="t" style="top:809px;font-size:12px;line-height:12px;font-weight:normal;letter-spacing:0.150px;right:746.35px;text-align:right;-webkit-text-stroke:0.6px #000;">0</div>
<div class="t" style="top:809px;font-size:12px;line-height:12px;font-weight:normal;letter-spacing:0.150px;right:645.35px;text-align:right;-webkit-text-stroke:0.6px #000;">0</div>
<div class="t" style="top:809px;font-size:12px;line-height:12px;font-weight:normal;letter-spacing:0.150px;right:529.85px;text-align:right;-webkit-text-stroke:0.6px #000;">100,915,274</div>
<div class="t" style="top:809px;font-size:12px;line-height:12px;font-weight:normal;letter-spacing:0.150px;right:423.35px;text-align:right;-webkit-text-stroke:0.6px #000;">5,765,600</div>
<div class="t" style="top:809px;font-size:12px;line-height:12px;font-weight:normal;letter-spacing:0.150px;right:317.35px;text-align:right;-webkit-text-stroke:0.6px #000;">5,765,600</div>
<div class="t" style="top:809px;font-size:12px;line-height:12px;font-weight:normal;letter-spacing:0.150px;right:212.85px;text-align:right;-webkit-text-stroke:0.6px #000;">5,765,600</div>
<div class="t" style="top:809px;font-size:12px;line-height:12px;font-weight:normal;letter-spacing:0.150px;right:106.35px;text-align:right;-webkit-text-stroke:0.6px #000;">95,149,674</div>
<div class="t" style="top:809px;font-size:12px;line-height:12px;font-weight:normal;letter-spacing:0.150px;right:56.35px;text-align:right;-webkit-text-stroke:0.6px #000;">5.71%</div>
<div class="t" style="top:846px;font-size:13px;line-height:13px;font-weight:bold;letter-spacing:1.470px;left:28.00px;-webkit-text-stroke:0.6px #000;">2.1.02</div>
<div class="t" style="top:846px;font-size:13px;line-height:13px;font-weight:bold;letter-spacing:0.550px;left:170.00px;-webkit-text-stroke:0.6px #000;">GASTOS GENERALES</div>
<div class="t" style="top:845px;font-size:12px;line-height:12px;font-weight:normal;letter-spacing:0.150px;right:1250.35px;text-align:right;-webkit-text-stroke:0.6px #000;">773,676,571</div>
<div class="t" style="top:845px;font-size:12px;line-height:12px;font-weight:normal;letter-spacing:0.150px;right:1149.35px;text-align:right;-webkit-text-stroke:0.6px #000;">0</div>
<div class="t" style="top:845px;font-size:12px;line-height:12px;font-weight:normal;letter-spacing:0.150px;right:1047.85px;text-align:right;-webkit-text-stroke:0.6px #000;">0</div>
<div class="t" style="top:845px;font-size:12px;line-height:12px;font-weight:normal;letter-spacing:0.150px;right:948.35px;text-align:right;-webkit-text-stroke:0.6px #000;">21,160,000</div>
<div class="t" style="top:845px;font-size:12px;line-height:12px;font-weight:normal;letter-spacing:0.150px;right:847.35px;text-align:right;-webkit-text-stroke:0.6px #000;">60,160,000</div>
<div class="t" style="top:845px;font-size:12px;line-height:12px;font-weight:normal;letter-spacing:0.150px;right:746.35px;text-align:right;-webkit-text-stroke:0.6px #000;">0</div>
<div class="t" style="top:845px;font-size:12px;line-height:12px;font-weight:normal;letter-spacing:0.150px;right:645.35px;text-align:right;-webkit-text-stroke:0.6px #000;">0</div>
<div class="t" style="top:845px;font-size:12px;line-height:12px;font-weight:normal;letter-spacing:0.150px;right:529.85px;text-align:right;-webkit-text-stroke:0.6px #000;">734,676,571</div>
<div class="t" style="top:845px;font-size:12px;line-height:12px;font-weight:normal;letter-spacing:0.150px;right:423.35px;text-align:right;-webkit-text-stroke:0.6px #000;">317,719,680</div>
<div class="t" style="top:845px;font-size:12px;line-height:12px;font-weight:normal;letter-spacing:0.150px;right:317.35px;text-align:right;-webkit-text-stroke:0.6px #000;">42,725,960</div>
<div class="t" style="top:845px;font-size:12px;line-height:12px;font-weight:normal;letter-spacing:0.150px;right:212.85px;text-align:right;-webkit-text-stroke:0.6px #000;">41,959,484</div>
<div class="t" style="top:845px;font-size:12px;line-height:12px;font-weight:normal;letter-spacing:0.150px;right:106.35px;text-align:right;-webkit-text-stroke:0.6px #000;">416,956,891</div>
<div class="t" style="top:845px;font-size:12px;line-height:12px;font-weight:normal;letter-spacing:0.150px;right:56.35px;text-align:right;-webkit-text-stroke:0.6px #000;">43.25%</div>
<div class="t" style="top:867px;font-size:13px;line-height:13px;font-weight:bold;letter-spacing:1.470px;left:28.00px;-webkit-text-stroke:0.6px #000;">2.1.02.01</div>
<div class="t" style="top:867px;font-size:13px;line-height:13px;font-weight:bold;letter-spacing:0.800px;left:170.00px;-webkit-text-stroke:0.6px #000;">Adquisición de Bienes</div>
<div class="t" style="top:866px;font-size:12px;line-height:12px;font-weight:normal;letter-spacing:0.150px;right:1250.35px;text-align:right;-webkit-text-stroke:0.6px #000;">170,500,000</div>
<div class="t" style="top:866px;font-size:12px;line-height:12px;font-weight:normal;letter-spacing:0.150px;right:1149.35px;text-align:right;-webkit-text-stroke:0.6px #000;">0</div>
<div class="t" style="top:866px;font-size:12px;line-height:12px;font-weight:normal;letter-spacing:0.150px;right:1047.85px;text-align:right;-webkit-text-stroke:0.6px #000;">0</div>
<div class="t" style="top:866px;font-size:12px;line-height:12px;font-weight:normal;letter-spacing:0.150px;right:948.35px;text-align:right;-webkit-text-stroke:0.6px #000;">5,700,000</div>
<div class="t" style="top:866px;font-size:12px;line-height:12px;font-weight:normal;letter-spacing:0.150px;right:847.35px;text-align:right;-webkit-text-stroke:0.6px #000;">0</div>
<div class="t" style="top:866px;font-size:12px;line-height:12px;font-weight:normal;letter-spacing:0.150px;right:746.35px;text-align:right;-webkit-text-stroke:0.6px #000;">0</div>
<div class="t" style="top:866px;font-size:12px;line-height:12px;font-weight:normal;letter-spacing:0.150px;right:645.35px;text-align:right;-webkit-text-stroke:0.6px #000;">0</div>
<div class="t" style="top:866px;font-size:12px;line-height:12px;font-weight:normal;letter-spacing:0.150px;right:529.85px;text-align:right;-webkit-text-stroke:0.6px #000;">176,200,000</div>
<div class="t" style="top:866px;font-size:12px;line-height:12px;font-weight:normal;letter-spacing:0.150px;right:423.35px;text-align:right;-webkit-text-stroke:0.6px #000;">16,488,915</div>
<div class="t" style="top:866px;font-size:12px;line-height:12px;font-weight:normal;letter-spacing:0.150px;right:317.35px;text-align:right;-webkit-text-stroke:0.6px #000;">1,733,690</div>
<div class="t" style="top:866px;font-size:12px;line-height:12px;font-weight:normal;letter-spacing:0.150px;right:212.85px;text-align:right;-webkit-text-stroke:0.6px #000;">1,733,690</div>
<div class="t" style="top:866px;font-size:12px;line-height:12px;font-weight:normal;letter-spacing:0.150px;right:106.35px;text-align:right;-webkit-text-stroke:0.6px #000;">159,711,085</div>
<div class="t" style="top:866px;font-size:12px;line-height:12px;font-weight:normal;letter-spacing:0.150px;right:56.35px;text-align:right;-webkit-text-stroke:0.6px #000;">9.36%</div>
<div class="t" style="top:887px;font-size:13px;line-height:13px;font-weight:normal;letter-spacing:0.600px;left:28.00px;-webkit-text-stroke:0.8px #000;">2.1.02.01.01</div>
<div class="t" style="top:887px;font-size:13px;line-height:13px;font-weight:normal;letter-spacing:0.400px;left:170.00px;-webkit-text-stroke:0.8px #000;">Materiales y Suministros</div>
<div class="t" style="top:886px;font-size:12px;line-height:12px;font-weight:normal;letter-spacing:0.150px;right:1250.35px;text-align:right;-webkit-text-stroke:0.6px #000;">10,300,000</div>
<div class="t" style="top:886px;font-size:12px;line-height:12px;font-weight:normal;letter-spacing:0.150px;right:1149.35px;text-align:right;-webkit-text-stroke:0.6px #000;">0</div>
<div class="t" style="top:886px;font-size:12px;line-height:12px;font-weight:normal;letter-spacing:0.150px;right:1047.85px;text-align:right;-webkit-text-stroke:0.6px #000;">0</div>
<div class="t" style="top:886px;font-size:12px;line-height:12px;font-weight:normal;letter-spacing:0.150px;right:948.35px;text-align:right;-webkit-text-stroke:0.6px #000;">5,700,000</div>
<div class="t" style="top:886px;font-size:12px;line-height:12px;font-weight:normal;letter-spacing:0.150px;right:847.35px;text-align:right;-webkit-text-stroke:0.6px #000;">0</div>
<div class="t" style="top:886px;font-size:12px;line-height:12px;font-weight:normal;letter-spacing:0.150px;right:746.35px;text-align:right;-webkit-text-stroke:0.6px #000;">0</div>
<div class="t" style="top:886px;font-size:12px;line-height:12px;font-weight:normal;letter-spacing:0.150px;right:645.35px;text-align:right;-webkit-text-stroke:0.6px #000;">0</div>
<div class="t" style="top:886px;font-size:12px;line-height:12px;font-weight:normal;letter-spacing:0.150px;right:529.85px;text-align:right;-webkit-text-stroke:0.6px #000;">16,000,000</div>
<div class="t" style="top:886px;font-size:12px;line-height:12px;font-weight:normal;letter-spacing:0.150px;right:423.35px;text-align:right;-webkit-text-stroke:0.6px #000;">0</div>
<div class="t" style="top:886px;font-size:12px;line-height:12px;font-weight:normal;letter-spacing:0.150px;right:317.35px;text-align:right;-webkit-text-stroke:0.6px #000;">0</div>
<div class="t" style="top:886px;font-size:12px;line-height:12px;font-weight:normal;letter-spacing:0.150px;right:212.85px;text-align:right;-webkit-text-stroke:0.6px #000;">0</div>
<div class="t" style="top:886px;font-size:12px;line-height:12px;font-weight:normal;letter-spacing:0.150px;right:106.35px;text-align:right;-webkit-text-stroke:0.6px #000;">16,000,000</div>
<div class="t" style="top:886px;font-size:12px;line-height:12px;font-weight:normal;letter-spacing:0.150px;right:56.35px;text-align:right;-webkit-text-stroke:0.6px #000;">0%</div>
<div class="t" style="top:907px;font-size:13px;line-height:13px;font-weight:normal;letter-spacing:0.600px;left:28.00px;-webkit-text-stroke:0.8px #000;">2.1.02.01.02</div>
<div class="t" style="top:907px;font-size:13px;line-height:13px;font-weight:normal;letter-spacing:0.400px;left:170.00px;-webkit-text-stroke:0.8px #000;">Gastos de Computador</div>
<div class="t" style="top:906px;font-size:12px;line-height:12px;font-weight:normal;letter-spacing:0.150px;right:1250.35px;text-align:right;-webkit-text-stroke:0.6px #000;">160,200,000</div>
<div class="t" style="top:906px;font-size:12px;line-height:12px;font-weight:normal;letter-spacing:0.150px;right:1149.35px;text-align:right;-webkit-text-stroke:0.6px #000;">0</div>
<div class="t" style="top:906px;font-size:12px;line-height:12px;font-weight:normal;letter-spacing:0.150px;right:1047.85px;text-align:right;-webkit-text-stroke:0.6px #000;">0</div>
<div class="t" style="top:906px;font-size:12px;line-height:12px;font-weight:normal;letter-spacing:0.150px;right:948.35px;text-align:right;-webkit-text-stroke:0.6px #000;">0</div>
<div class="t" style="top:906px;font-size:12px;line-height:12px;font-weight:normal;letter-spacing:0.150px;right:847.35px;text-align:right;-webkit-text-stroke:0.6px #000;">0</div>
<div class="t" style="top:906px;font-size:12px;line-height:12px;font-weight:normal;letter-spacing:0.150px;right:746.35px;text-align:right;-webkit-text-stroke:0.6px #000;">0</div>
<div class="t" style="top:906px;font-size:12px;line-height:12px;font-weight:normal;letter-spacing:0.150px;right:645.35px;text-align:right;-webkit-text-stroke:0.6px #000;">0</div>
<div class="t" style="top:906px;font-size:12px;line-height:12px;font-weight:normal;letter-spacing:0.150px;right:529.85px;text-align:right;-webkit-text-stroke:0.6px #000;">160,200,000</div>
<div class="t" style="top:906px;font-size:12px;line-height:12px;font-weight:normal;letter-spacing:0.150px;right:423.35px;text-align:right;-webkit-text-stroke:0.6px #000;">16,488,915</div>
<div class="t" style="top:906px;font-size:12px;line-height:12px;font-weight:normal;letter-spacing:0.150px;right:317.35px;text-align:right;-webkit-text-stroke:0.6px #000;">1,733,690</div>
<div class="t" style="top:906px;font-size:12px;line-height:12px;font-weight:normal;letter-spacing:0.150px;right:212.85px;text-align:right;-webkit-text-stroke:0.6px #000;">1,733,690</div>
<div class="t" style="top:906px;font-size:12px;line-height:12px;font-weight:normal;letter-spacing:0.150px;right:106.35px;text-align:right;-webkit-text-stroke:0.6px #000;">143,711,085</div>
<div class="t" style="top:906px;font-size:12px;line-height:12px;font-weight:normal;letter-spacing:0.150px;right:56.35px;text-align:right;-webkit-text-stroke:0.6px #000;">10.29%</div>
<div class="t" style="top:927px;font-size:13px;line-height:13px;font-weight:bold;letter-spacing:1.470px;left:28.00px;-webkit-text-stroke:0.6px #000;">2.1.02.02</div>
<div class="t" style="top:927px;font-size:13px;line-height:13px;font-weight:bold;letter-spacing:0.800px;left:170.00px;-webkit-text-stroke:0.6px #000;">Adquisición de Servicios</div>
<div class="t" style="top:926px;font-size:12px;line-height:12px;font-weight:normal;letter-spacing:0.150px;right:1250.35px;text-align:right;-webkit-text-stroke:0.6px #000;">603,176,571</div>
<div class="t" style="top:926px;font-size:12px;line-height:12px;font-weight:normal;letter-spacing:0.150px;right:1149.35px;text-align:right;-webkit-text-stroke:0.6px #000;">0</div>
<div class="t" style="top:926px;font-size:12px;line-height:12px;font-weight:normal;letter-spacing:0.150px;right:1047.85px;text-align:right;-webkit-text-stroke:0.6px #000;">0</div>
<div class="t" style="top:926px;font-size:12px;line-height:12px;font-weight:normal;letter-spacing:0.150px;right:948.35px;text-align:right;-webkit-text-stroke:0.6px #000;">15,460,000</div>
<div class="t" style="top:926px;font-size:12px;line-height:12px;font-weight:normal;letter-spacing:0.150px;right:847.35px;text-align:right;-webkit-text-stroke:0.6px #000;">60,160,000</div>
<div class="t" style="top:926px;font-size:12px;line-height:12px;font-weight:normal;letter-spacing:0.150px;right:746.35px;text-align:right;-webkit-text-stroke:0.6px #000;">0</div>
<div class="t" style="top:926px;font-size:12px;line-height:12px;font-weight:normal;letter-spacing:0.150px;right:645.35px;text-align:right;-webkit-text-stroke:0.6px #000;">0</div>
<div class="t" style="top:926px;font-size:12px;line-height:12px;font-weight:normal;letter-spacing:0.150px;right:529.85px;text-align:right;-webkit-text-stroke:0.6px #000;">558,476,571</div>
<div class="t" style="top:926px;font-size:12px;line-height:12px;font-weight:normal;letter-spacing:0.150px;right:423.35px;text-align:right;-webkit-text-stroke:0.6px #000;">301,230,765</div>
<div class="t" style="top:926px;font-size:12px;line-height:12px;font-weight:normal;letter-spacing:0.150px;right:317.35px;text-align:right;-webkit-text-stroke:0.6px #000;">40,992,270</div>
<div class="t" style="top:926px;font-size:12px;line-height:12px;font-weight:normal;letter-spacing:0.150px;right:212.85px;text-align:right;-webkit-text-stroke:0.6px #000;">40,225,794</div>
<div class="t" style="top:926px;font-size:12px;line-height:12px;font-weight:normal;letter-spacing:0.150px;right:106.35px;text-align:right;-webkit-text-stroke:0.6px #000;">257,245,806</div>
<div class="t" style="top:926px;font-size:12px;line-height:12px;font-weight:normal;letter-spacing:0.150px;right:56.35px;text-align:right;-webkit-text-stroke:0.6px #000;">53.94%</div>
<div class="t" style="top:947px;font-size:13px;line-height:13px;font-weight:normal;letter-spacing:0.600px;left:28.00px;-webkit-text-stroke:0.8px #000;">2.1.02.02.01</div>
<div class="t" style="top:947px;font-size:13px;line-height:13px;font-weight:normal;letter-spacing:0.400px;left:170.00px;-webkit-text-stroke:0.8px #000;">Capacitacion</div>
<div class="t" style="top:946px;font-size:12px;line-height:12px;font-weight:normal;letter-spacing:0.150px;right:1250.35px;text-align:right;-webkit-text-stroke:0.6px #000;">8,500,000</div>
<div class="t" style="top:946px;font-size:12px;line-height:12px;font-weight:normal;letter-spacing:0.150px;right:1149.35px;text-align:right;-webkit-text-stroke:0.6px #000;">0</div>
<div class="t" style="top:946px;font-size:12px;line-height:12px;font-weight:normal;letter-spacing:0.150px;right:1047.85px;text-align:right;-webkit-text-stroke:0.6px #000;">0</div>
<div class="t" style="top:946px;font-size:12px;line-height:12px;font-weight:normal;letter-spacing:0.150px;right:948.35px;text-align:right;-webkit-text-stroke:0.6px #000;">0</div>
<div class="t" style="top:946px;font-size:12px;line-height:12px;font-weight:normal;letter-spacing:0.150px;right:847.35px;text-align:right;-webkit-text-stroke:0.6px #000;">0</div>
<div class="t" style="top:946px;font-size:12px;line-height:12px;font-weight:normal;letter-spacing:0.150px;right:746.35px;text-align:right;-webkit-text-stroke:0.6px #000;">0</div>
<div class="t" style="top:946px;font-size:12px;line-height:12px;font-weight:normal;letter-spacing:0.150px;right:645.35px;text-align:right;-webkit-text-stroke:0.6px #000;">0</div>
<div class="t" style="top:946px;font-size:12px;line-height:12px;font-weight:normal;letter-spacing:0.150px;right:529.85px;text-align:right;-webkit-text-stroke:0.6px #000;">8,500,000</div>
<div class="t" style="top:946px;font-size:12px;line-height:12px;font-weight:normal;letter-spacing:0.150px;right:423.35px;text-align:right;-webkit-text-stroke:0.6px #000;">0</div>
<div class="t" style="top:946px;font-size:12px;line-height:12px;font-weight:normal;letter-spacing:0.150px;right:317.35px;text-align:right;-webkit-text-stroke:0.6px #000;">0</div>
<div class="t" style="top:946px;font-size:12px;line-height:12px;font-weight:normal;letter-spacing:0.150px;right:212.85px;text-align:right;-webkit-text-stroke:0.6px #000;">0</div>
<div class="t" style="top:946px;font-size:12px;line-height:12px;font-weight:normal;letter-spacing:0.150px;right:106.35px;text-align:right;-webkit-text-stroke:0.6px #000;">8,500,000</div>
<div class="t" style="top:946px;font-size:12px;line-height:12px;font-weight:normal;letter-spacing:0.150px;right:56.35px;text-align:right;-webkit-text-stroke:0.6px #000;">0%</div>
<div class="t" style="top:967px;font-size:13px;line-height:13px;font-weight:normal;letter-spacing:0.600px;left:28.00px;-webkit-text-stroke:0.8px #000;">2.1.02.02.03</div>
<div class="t" style="top:967px;font-size:13px;line-height:13px;font-weight:normal;letter-spacing:0.400px;left:170.00px;-webkit-text-stroke:0.8px #000;">Viaticos y Gastos de Viaje</div>
<div class="t" style="top:966px;font-size:12px;line-height:12px;font-weight:normal;letter-spacing:0.150px;right:1250.35px;text-align:right;-webkit-text-stroke:0.6px #000;">129,842,707</div>
<div class="t" style="top:966px;font-size:12px;line-height:12px;font-weight:normal;letter-spacing:0.150px;right:1149.35px;text-align:right;-webkit-text-stroke:0.6px #000;">0</div>
<div class="t" style="top:966px;font-size:12px;line-height:12px;font-weight:normal;letter-spacing:0.150px;right:1047.85px;text-align:right;-webkit-text-stroke:0.6px #000;">0</div>
<div class="t" style="top:966px;font-size:12px;line-height:12px;font-weight:normal;letter-spacing:0.150px;right:948.35px;text-align:right;-webkit-text-stroke:0.6px #000;">0</div>
<div class="t" style="top:966px;font-size:12px;line-height:12px;font-weight:normal;letter-spacing:0.150px;right:847.35px;text-align:right;-webkit-text-stroke:0.6px #000;">40,660,000</div>
<div class="t" style="top:966px;font-size:12px;line-height:12px;font-weight:normal;letter-spacing:0.150px;right:746.35px;text-align:right;-webkit-text-stroke:0.6px #000;">0</div>
<div class="t" style="top:966px;font-size:12px;line-height:12px;font-weight:normal;letter-spacing:0.150px;right:645.35px;text-align:right;-webkit-text-stroke:0.6px #000;">0</div>
<div class="t" style="top:966px;font-size:12px;line-height:12px;font-weight:normal;letter-spacing:0.150px;right:529.85px;text-align:right;-webkit-text-stroke:0.6px #000;">89,182,707</div>
<div class="t" style="top:966px;font-size:12px;line-height:12px;font-weight:normal;letter-spacing:0.150px;right:423.35px;text-align:right;-webkit-text-stroke:0.6px #000;">17,658,021</div>
<div class="t" style="top:966px;font-size:12px;line-height:12px;font-weight:normal;letter-spacing:0.150px;right:317.35px;text-align:right;-webkit-text-stroke:0.6px #000;">17,488,021</div>
<div class="t" style="top:966px;font-size:12px;line-height:12px;font-weight:normal;letter-spacing:0.150px;right:212.85px;text-align:right;-webkit-text-stroke:0.6px #000;">16,721,545</div>
<div class="t" style="top:966px;font-size:12px;line-height:12px;font-weight:normal;letter-spacing:0.150px;right:106.35px;text-align:right;-webkit-text-stroke:0.6px #000;">71,524,686</div>
<div class="t" style="top:966px;font-size:12px;line-height:12px;font-weight:normal;letter-spacing:0.150px;right:56.35px;text-align:right;-webkit-text-stroke:0.6px #000;">19.8%</div>
<div class="t" style="top:988px;font-size:13px;line-height:13px;font-weight:normal;letter-spacing:0.600px;left:28.00px;-webkit-text-stroke:0.8px #000;">2.1.02.02.05</div>
<div class="t" style="top:988px;font-size:13px;line-height:13px;font-weight:normal;letter-spacing:0.400px;left:170.00px;-webkit-text-stroke:0.8px #000;">Comunicaciones y Transporte</div>
<div class="t" style="top:987px;font-size:12px;line-height:12px;font-weight:normal;letter-spacing:0.150px;right:1250.35px;text-align:right;-webkit-text-stroke:0.6px #000;">57,025,600</div>
<div class="t" style="top:987px;font-size:12px;line-height:12px;font-weight:normal;letter-spacing:0.150px;right:1149.35px;text-align:right;-webkit-text-stroke:0.6px #000;">0</div>
<div class="t" style="top:987px;font-size:12px;line-height:12px;font-weight:normal;letter-spacing:0.150px;right:1047.85px;text-align:right;-webkit-text-stroke:0.6px #000;">0</div>
<div class="t" style="top:987px;font-size:12px;line-height:12px;font-weight:normal;letter-spacing:0.150px;right:948.35px;text-align:right;-webkit-text-stroke:0.6px #000;">0</div>
<div class="t" style="top:987px;font-size:12px;line-height:12px;font-weight:normal;letter-spacing:0.150px;right:847.35px;text-align:right;-webkit-text-stroke:0.6px #000;">15,000,000</div>
<div class="t" style="top:987px;font-size:12px;line-height:12px;font-weight:normal;letter-spacing:0.150px;right:746.35px;text-align:right;-webkit-text-stroke:0.6px #000;">0</div>
<div class="t" style="top:987px;font-size:12px;line-height:12px;font-weight:normal;letter-spacing:0.150px;right:645.35px;text-align:right;-webkit-text-stroke:0.6px #000;">0</div>
<div class="t" style="top:987px;font-size:12px;line-height:12px;font-weight:normal;letter-spacing:0.150px;right:529.85px;text-align:right;-webkit-text-stroke:0.6px #000;">42,025,600</div>
<div class="t" style="top:987px;font-size:12px;line-height:12px;font-weight:normal;letter-spacing:0.150px;right:423.35px;text-align:right;-webkit-text-stroke:0.6px #000;">10,613,385</div>
<div class="t" style="top:987px;font-size:12px;line-height:12px;font-weight:normal;letter-spacing:0.150px;right:317.35px;text-align:right;-webkit-text-stroke:0.6px #000;">1,673,765</div>
<div class="t" style="top:987px;font-size:12px;line-height:12px;font-weight:normal;letter-spacing:0.150px;right:212.85px;text-align:right;-webkit-text-stroke:0.6px #000;">1,673,765</div>
<div class="t" style="top:987px;font-size:12px;line-height:12px;font-weight:normal;letter-spacing:0.150px;right:106.35px;text-align:right;-webkit-text-stroke:0.6px #000;">31,412,215</div>
<div class="t" style="top:987px;font-size:12px;line-height:12px;font-weight:normal;letter-spacing:0.150px;right:56.35px;text-align:right;-webkit-text-stroke:0.6px #000;">25.26%</div>
<div class="t" style="top:1008px;font-size:13px;line-height:13px;font-weight:bold;letter-spacing:1.470px;left:28.00px;-webkit-text-stroke:0.6px #000;">2.1.02.02.07</div>
<div class="t" style="top:1008px;font-size:13px;line-height:13px;font-weight:bold;letter-spacing:0.800px;left:170.00px;-webkit-text-stroke:0.6px #000;">Servicios Públicos</div>
<div class="t" style="top:1007px;font-size:12px;line-height:12px;font-weight:normal;letter-spacing:0.150px;right:1250.35px;text-align:right;-webkit-text-stroke:0.6px #000;">26,775,880</div>
<div class="t" style="top:1007px;font-size:12px;line-height:12px;font-weight:normal;letter-spacing:0.150px;right:1149.35px;text-align:right;-webkit-text-stroke:0.6px #000;">0</div>
<div class="t" style="top:1007px;font-size:12px;line-height:12px;font-weight:normal;letter-spacing:0.150px;right:1047.85px;text-align:right;-webkit-text-stroke:0.6px #000;">0</div>
<div class="t" style="top:1007px;font-size:12px;line-height:12px;font-weight:normal;letter-spacing:0.150px;right:948.35px;text-align:right;-webkit-text-stroke:0.6px #000;">0</div>
<div class="t" style="top:1007px;font-size:12px;line-height:12px;font-weight:normal;letter-spacing:0.150px;right:847.35px;text-align:right;-webkit-text-stroke:0.6px #000;">0</div>
<div class="t" style="top:1007px;font-size:12px;line-height:12px;font-weight:normal;letter-spacing:0.150px;right:746.35px;text-align:right;-webkit-text-stroke:0.6px #000;">0</div>
<div class="t" style="top:1007px;font-size:12px;line-height:12px;font-weight:normal;letter-spacing:0.150px;right:645.35px;text-align:right;-webkit-text-stroke:0.6px #000;">0</div>
<div class="t" style="top:1007px;font-size:12px;line-height:12px;font-weight:normal;letter-spacing:0.150px;right:529.85px;text-align:right;-webkit-text-stroke:0.6px #000;">26,775,880</div>
<div class="t" style="top:1007px;font-size:12px;line-height:12px;font-weight:normal;letter-spacing:0.150px;right:423.35px;text-align:right;-webkit-text-stroke:0.6px #000;">1,958,965</div>
<div class="t" style="top:1007px;font-size:12px;line-height:12px;font-weight:normal;letter-spacing:0.150px;right:317.35px;text-align:right;-webkit-text-stroke:0.6px #000;">1,958,965</div>
<div class="t" style="top:1007px;font-size:12px;line-height:12px;font-weight:normal;letter-spacing:0.150px;right:212.85px;text-align:right;-webkit-text-stroke:0.6px #000;">1,958,965</div>
<div class="t" style="top:1007px;font-size:12px;line-height:12px;font-weight:normal;letter-spacing:0.150px;right:106.35px;text-align:right;-webkit-text-stroke:0.6px #000;">24,816,915</div>
<div class="t" style="top:1007px;font-size:12px;line-height:12px;font-weight:normal;letter-spacing:0.150px;right:56.35px;text-align:right;-webkit-text-stroke:0.6px #000;">7.32%</div>
</body></html>
